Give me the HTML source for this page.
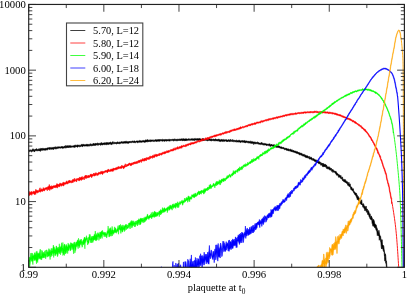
<!DOCTYPE html>
<html><head><meta charset="utf-8"><style>
html,body{margin:0;padding:0;background:#fff;}
body{width:407px;height:294px;overflow:hidden;position:relative;}
.t{font-family:"Liberation Serif",serif;font-size:10.7px;fill:#000;}
svg{will-change:transform;}
</style></head><body>
<svg width="407" height="294" viewBox="0 0 407 294" style="position:absolute;left:0;top:0">
<defs><clipPath id="c"><rect x="28.7" y="4.45" width="375.7" height="262.85"/></clipPath></defs>
<g clip-path="url(#c)">
<path d="M28.90,150.11 L29.30,150.03 L29.70,150.22 L30.10,150.16 L30.50,150.05 L30.90,149.79 L31.30,150.03 L31.70,150.17 L32.10,149.66 L32.50,149.85 L32.90,148.73 L33.30,149.41 L33.70,149.32 L34.10,149.65 L34.50,149.91 L34.90,149.24 L35.30,149.30 L35.70,149.30 L36.10,149.16 L36.50,148.61 L36.90,148.93 L37.30,149.64 L37.70,149.25 L38.10,149.26 L38.50,148.90 L38.90,149.13 L39.30,149.14 L39.70,148.67 L40.10,148.49 L40.50,149.19 L40.90,148.28 L41.30,148.55 L41.70,148.54 L42.10,148.46 L42.50,148.37 L42.90,148.45 L43.30,148.32 L43.70,148.65 L44.10,148.81 L44.50,148.28 L44.90,148.68 L45.30,148.56 L45.70,148.34 L46.10,147.93 L46.50,148.49 L46.90,148.14 L47.30,148.12 L47.70,147.99 L48.10,147.53 L48.50,147.99 L48.90,148.17 L49.30,147.51 L49.70,147.46 L50.10,147.92 L50.50,147.41 L50.90,147.63 L51.30,147.43 L51.70,147.82 L52.10,147.45 L52.50,147.75 L52.90,147.33 L53.30,147.84 L53.70,147.20 L54.10,147.20 L54.50,147.23 L54.90,146.96 L55.30,147.53 L55.70,146.63 L56.10,146.98 L56.50,147.32 L56.90,147.17 L57.30,146.64 L57.70,147.27 L58.10,147.02 L58.50,146.87 L58.90,146.87 L59.30,146.94 L59.70,146.71 L60.10,146.65 L60.50,146.92 L60.90,147.21 L61.30,146.47 L61.70,146.49 L62.10,146.54 L62.50,146.66 L62.90,146.46 L63.30,147.00 L63.70,146.79 L64.10,146.51 L64.50,146.00 L64.90,146.00 L65.30,146.68 L65.70,145.52 L66.10,145.52 L66.50,146.61 L66.90,145.78 L67.30,145.78 L67.70,146.11 L68.10,145.45 L68.50,145.88 L68.90,146.23 L69.30,145.56 L69.70,145.79 L70.10,145.41 L70.50,145.79 L70.90,145.81 L71.30,146.17 L71.70,145.83 L72.10,145.76 L72.50,145.96 L72.90,146.00 L73.30,145.65 L73.70,145.91 L74.10,145.35 L74.50,145.42 L74.90,145.72 L75.30,144.81 L75.70,145.58 L76.10,145.60 L76.50,145.26 L76.90,145.40 L77.30,144.88 L77.70,145.09 L78.10,144.83 L78.50,145.47 L78.90,145.05 L79.30,144.90 L79.70,145.39 L80.10,145.51 L80.50,145.19 L80.90,144.71 L81.30,144.45 L81.70,144.45 L82.10,144.37 L82.50,144.41 L82.90,144.70 L83.30,144.21 L83.70,144.22 L84.10,144.95 L84.50,144.68 L84.90,144.62 L85.30,144.67 L85.70,144.79 L86.10,144.60 L86.50,143.92 L86.90,144.55 L87.30,144.48 L87.70,144.12 L88.10,144.53 L88.50,144.43 L88.90,144.44 L89.30,144.21 L89.70,144.47 L90.10,144.35 L90.50,143.97 L90.90,143.66 L91.30,144.41 L91.70,144.17 L92.10,143.95 L92.50,144.28 L92.90,144.42 L93.30,143.23 L93.70,144.28 L94.10,143.48 L94.50,143.96 L94.90,143.64 L95.30,143.60 L95.70,143.36 L96.10,143.36 L96.50,143.81 L96.90,143.37 L97.30,143.19 L97.70,142.92 L98.10,143.48 L98.50,143.45 L98.90,143.33 L99.30,143.43 L99.70,143.43 L100.10,143.75 L100.50,142.83 L100.90,143.93 L101.30,142.60 L101.70,142.77 L102.10,143.26 L102.50,143.24 L102.90,142.98 L103.30,142.93 L103.70,143.12 L104.10,142.70 L104.50,143.00 L104.90,142.83 L105.30,143.23 L105.70,142.95 L106.10,142.21 L106.50,143.12 L106.90,142.70 L107.30,143.02 L107.70,142.52 L108.10,142.49 L108.50,143.32 L108.90,142.50 L109.30,142.72 L109.70,142.53 L110.10,142.12 L110.50,142.12 L110.90,142.38 L111.30,142.88 L111.70,142.70 L112.10,142.06 L112.50,142.35 L112.90,141.52 L113.30,142.14 L113.70,142.49 L114.10,142.72 L114.50,142.25 L114.90,142.07 L115.30,142.45 L115.70,142.39 L116.10,142.20 L116.50,142.46 L116.90,142.23 L117.30,141.95 L117.70,141.95 L118.10,142.28 L118.50,142.38 L118.90,142.25 L119.30,141.82 L119.70,142.35 L120.10,142.48 L120.50,141.89 L120.90,142.10 L121.30,141.56 L121.70,141.86 L122.10,142.10 L122.50,141.80 L122.90,141.75 L123.30,141.72 L123.70,141.83 L124.10,141.63 L124.50,141.19 L124.90,142.01 L125.30,141.54 L125.70,141.29 L126.10,141.29 L126.50,141.13 L126.90,141.89 L127.30,141.93 L127.70,141.39 L128.10,141.89 L128.50,141.63 L128.90,141.56 L129.30,141.08 L129.70,141.47 L130.10,141.26 L130.50,141.46 L130.90,141.61 L131.30,141.59 L131.70,141.24 L132.10,141.12 L132.50,141.03 L132.90,141.31 L133.30,141.19 L133.70,141.28 L134.10,141.05 L134.50,140.88 L134.90,141.10 L135.30,141.42 L135.70,141.39 L136.10,140.98 L136.50,140.93 L136.90,141.04 L137.30,140.93 L137.70,140.98 L138.10,141.23 L138.50,140.91 L138.90,140.97 L139.30,140.81 L139.70,140.38 L140.10,140.65 L140.50,140.75 L140.90,140.83 L141.30,141.12 L141.70,140.82 L142.10,140.56 L142.50,140.63 L142.90,140.79 L143.30,140.59 L143.70,140.44 L144.10,140.68 L144.50,140.94 L144.90,140.23 L145.30,140.15 L145.70,139.81 L146.10,140.32 L146.50,140.04 L146.90,139.94 L147.30,140.05 L147.70,139.44 L148.10,140.22 L148.50,140.32 L148.90,140.01 L149.30,140.49 L149.70,139.76 L150.10,140.18 L150.50,140.03 L150.90,139.73 L151.30,139.94 L151.70,140.08 L152.10,140.28 L152.50,140.02 L152.90,139.92 L153.30,139.77 L153.70,140.51 L154.10,140.38 L154.50,140.03 L154.90,140.07 L155.30,139.64 L155.70,139.63 L156.10,139.65 L156.50,139.85 L156.90,139.80 L157.30,139.74 L157.70,139.65 L158.10,139.58 L158.50,139.51 L158.90,139.81 L159.30,139.60 L159.70,139.60 L160.10,140.00 L160.50,139.47 L160.90,139.47 L161.30,139.59 L161.70,139.82 L162.10,139.66 L162.50,139.18 L162.90,139.41 L163.30,139.77 L163.70,139.52 L164.10,139.58 L164.50,139.57 L164.90,139.90 L165.30,139.40 L165.70,139.40 L166.10,139.87 L166.50,139.50 L166.90,139.56 L167.30,139.60 L167.70,139.67 L168.10,139.50 L168.50,139.41 L168.90,139.42 L169.30,139.51 L169.70,139.26 L170.10,139.39 L170.50,139.50 L170.90,139.43 L171.30,139.51 L171.70,139.42 L172.10,139.34 L172.50,139.38 L172.90,139.07 L173.30,139.30 L173.70,139.30 L174.10,139.27 L174.50,138.94 L174.90,139.19 L175.30,138.99 L175.70,139.45 L176.10,139.41 L176.50,139.54 L176.90,139.01 L177.30,139.28 L177.70,139.15 L178.10,139.21 L178.50,139.27 L178.90,139.30 L179.30,139.01 L179.70,139.21 L180.10,139.15 L180.50,139.11 L180.90,139.04 L181.30,139.03 L181.70,138.63 L182.10,139.23 L182.50,138.95 L182.90,138.66 L183.30,138.72 L183.70,138.72 L184.10,138.95 L184.50,139.09 L184.90,138.73 L185.30,138.65 L185.70,139.00 L186.10,139.00 L186.50,138.83 L186.90,138.92 L187.30,139.33 L187.70,139.05 L188.10,139.16 L188.50,138.79 L188.90,138.78 L189.30,138.77 L189.70,139.16 L190.10,139.44 L190.50,139.08 L190.90,138.82 L191.30,138.87 L191.70,138.78 L192.10,138.59 L192.50,138.92 L192.90,138.60 L193.30,138.89 L193.70,138.85 L194.10,138.50 L194.50,138.57 L194.90,139.19 L195.30,139.06 L195.70,138.42 L196.10,138.64 L196.50,138.85 L196.90,138.86 L197.30,138.45 L197.70,138.64 L198.10,138.94 L198.50,138.82 L198.90,138.35 L199.30,138.35 L199.70,138.79 L200.10,138.95 L200.50,138.85 L200.90,138.63 L201.30,138.94 L201.70,139.37 L202.10,139.10 L202.50,138.48 L202.90,138.48 L203.30,138.59 L203.70,138.80 L204.10,139.17 L204.50,139.34 L204.90,139.37 L205.30,139.34 L205.70,139.26 L206.10,139.26 L206.50,139.01 L206.90,139.30 L207.30,139.61 L207.70,139.21 L208.10,139.16 L208.50,139.36 L208.90,139.05 L209.30,139.10 L209.70,139.06 L210.10,139.25 L210.50,138.91 L210.90,139.29 L211.30,138.84 L211.70,139.17 L212.10,139.08 L212.50,139.38 L212.90,139.42 L213.30,139.11 L213.70,139.11 L214.10,139.62 L214.50,139.49 L214.90,139.01 L215.30,138.77 L215.70,139.06 L216.10,139.59 L216.50,139.52 L216.90,139.34 L217.30,139.58 L217.70,139.43 L218.10,139.08 L218.50,139.08 L218.90,139.58 L219.30,139.44 L219.70,139.44 L220.10,139.76 L220.50,140.04 L220.90,139.43 L221.30,139.40 L221.70,139.48 L222.10,139.48 L222.50,139.73 L222.90,139.70 L223.30,139.70 L223.70,139.40 L224.10,139.69 L224.50,139.69 L224.90,140.01 L225.30,139.78 L225.70,139.86 L226.10,139.69 L226.50,139.64 L226.90,139.97 L227.30,140.31 L227.70,139.96 L228.10,139.96 L228.50,139.85 L228.90,139.58 L229.30,140.06 L229.70,140.15 L230.10,139.45 L230.50,139.45 L230.90,140.42 L231.30,140.05 L231.70,140.17 L232.10,140.39 L232.50,139.65 L232.90,139.65 L233.30,140.16 L233.70,140.13 L234.10,139.99 L234.50,140.43 L234.90,140.31 L235.30,140.48 L235.70,140.41 L236.10,140.19 L236.50,140.19 L236.90,140.13 L237.30,140.45 L237.70,140.65 L238.10,140.71 L238.50,140.37 L238.90,140.37 L239.30,140.30 L239.70,140.42 L240.10,140.57 L240.50,140.99 L240.90,140.70 L241.30,140.70 L241.70,140.63 L242.10,140.52 L242.50,140.58 L242.90,140.81 L243.30,140.92 L243.70,140.99 L244.10,140.32 L244.50,141.14 L244.90,140.58 L245.30,140.84 L245.70,141.35 L246.10,141.02 L246.50,140.96 L246.90,140.99 L247.30,140.99 L247.70,141.38 L248.10,141.34 L248.50,141.34 L248.90,141.37 L249.30,141.28 L249.70,141.87 L250.10,141.47 L250.50,141.16 L250.90,141.16 L251.30,141.64 L251.70,141.44 L252.10,141.76 L252.50,141.67 L252.90,141.62 L253.30,142.00 L253.70,141.95 L254.10,141.85 L254.50,142.13 L254.90,141.99 L255.30,142.18 L255.70,142.18 L256.10,142.12 L256.50,142.49 L256.90,142.49 L257.30,142.19 L257.70,142.04 L258.10,142.30 L258.50,142.59 L258.90,142.69 L259.30,143.01 L259.70,143.03 L260.10,142.88 L260.50,143.18 L260.90,142.84 L261.30,142.94 L261.70,142.23 L262.10,142.69 L262.50,143.08 L262.90,143.52 L263.30,143.73 L263.70,143.37 L264.10,143.57 L264.50,143.40 L264.90,143.58 L265.30,143.47 L265.70,143.86 L266.10,143.87 L266.50,144.04 L266.90,143.89 L267.30,144.26 L267.70,143.88 L268.10,144.31 L268.50,144.11 L268.90,144.20 L269.30,144.12 L269.70,143.66 L270.10,144.37 L270.50,145.11 L270.90,144.78 L271.30,144.00 L271.70,144.83 L272.10,145.18 L272.50,145.00 L272.90,144.52 L273.30,144.87 L273.70,144.87 L274.10,145.61 L274.50,144.72 L274.90,144.72 L275.30,145.82 L275.70,145.89 L276.10,145.89 L276.50,145.76 L276.90,146.12 L277.30,145.92 L277.70,146.14 L278.10,145.98 L278.50,145.55 L278.90,146.37 L279.30,145.96 L279.70,146.12 L280.10,146.97 L280.50,147.03 L280.90,146.70 L281.30,147.05 L281.70,146.70 L282.10,147.38 L282.50,147.51 L282.90,147.15 L283.30,147.31 L283.70,147.59 L284.10,147.87 L284.50,147.93 L284.90,148.38 L285.30,148.44 L285.70,147.98 L286.10,148.01 L286.50,148.45 L286.90,148.45 L287.30,148.89 L287.70,148.88 L288.10,149.16 L288.50,149.01 L288.90,148.81 L289.30,149.66 L289.70,149.51 L290.10,149.17 L290.50,149.06 L290.90,149.79 L291.30,149.88 L291.70,149.92 L292.10,149.57 L292.50,150.13 L292.90,150.83 L293.30,150.22 L293.70,150.75 L294.10,150.68 L294.50,151.08 L294.90,151.09 L295.30,151.04 L295.70,151.33 L296.10,151.26 L296.50,151.65 L296.90,151.42 L297.30,151.71 L297.70,151.76 L298.10,152.57 L298.50,152.01 L298.90,152.64 L299.30,152.48 L299.70,153.11 L300.10,153.03 L300.50,153.21 L300.90,152.99 L301.30,152.99 L301.70,153.52 L302.10,154.16 L302.50,153.87 L302.90,154.42 L303.30,154.30 L303.70,154.59 L304.10,154.23 L304.50,154.61 L304.90,155.24 L305.30,155.17 L305.70,154.94 L306.10,155.91 L306.50,155.73 L306.90,155.68 L307.30,155.68 L307.70,155.96 L308.10,156.32 L308.50,156.80 L308.90,156.73 L309.30,156.24 L309.70,157.55 L310.10,157.46 L310.50,157.19 L310.90,157.24 L311.30,157.15 L311.70,157.99 L312.10,157.99 L312.50,158.74 L312.90,159.25 L313.30,158.48 L313.70,158.71 L314.10,159.25 L314.50,159.26 L314.90,159.49 L315.30,159.82 L315.70,160.07 L316.10,159.79 L316.50,160.27 L316.90,160.42 L317.30,160.64 L317.70,160.67 L318.10,161.67 L318.50,161.38 L318.90,161.19 L319.30,161.60 L319.70,161.89 L320.10,161.85 L320.50,162.31 L320.90,163.63 L321.30,162.78 L321.70,163.28 L322.10,163.68 L322.50,163.00 L322.90,164.63 L323.30,163.72 L323.70,163.38 L324.10,164.65 L324.50,164.07 L324.90,165.13 L325.30,164.46 L325.70,164.27 L326.10,166.24 L326.50,164.98 L326.90,166.42 L327.30,166.71 L327.70,166.86 L328.10,167.11 L328.50,166.71 L328.90,167.26 L329.30,166.86 L329.70,167.97 L330.10,167.70 L330.50,167.95 L330.90,168.72 L331.30,168.18 L331.70,169.53 L332.10,169.89 L332.50,169.58 L332.90,169.23 L333.30,170.07 L333.70,170.52 L334.10,170.97 L334.50,171.16 L334.90,171.10 L335.30,171.49 L335.70,171.34 L336.10,171.34 L336.50,172.86 L336.90,172.69 L337.30,173.55 L337.70,173.50 L338.10,173.90 L338.50,174.23 L338.90,175.53 L339.30,174.70 L339.70,175.37 L340.10,175.30 L340.50,176.59 L340.90,175.47 L341.30,177.14 L341.70,177.61 L342.10,177.31 L342.50,177.12 L342.90,178.88 L343.30,179.21 L343.70,179.86 L344.10,179.98 L344.50,179.57 L344.90,179.30 L345.30,179.59 L345.70,180.25 L346.10,181.47 L346.50,180.90 L346.90,181.69 L347.30,181.71 L347.70,182.06 L348.10,183.43 L348.50,183.92 L348.90,182.21 L349.30,183.94 L349.70,185.12 L350.10,183.81 L350.50,186.16 L350.90,186.85 L351.30,187.04 L351.70,187.04 L352.10,188.60 L352.50,188.84 L352.90,189.06 L353.30,188.65 L353.70,190.77 L354.10,191.56 L354.50,191.85 L354.90,192.36 L355.30,193.11 L355.70,193.08 L356.10,193.33 L356.50,193.33 L356.90,195.35 L357.30,195.21 L357.70,196.29 L358.10,196.88 L358.50,196.64 L358.90,198.10 L359.30,198.21 L359.70,199.37 L360.10,201.07 L360.50,200.94 L360.90,201.64 L361.30,200.85 L361.70,199.72 L362.10,203.39 L362.50,203.97 L362.90,204.36 L363.30,203.57 L363.70,204.15 L364.10,206.31 L364.50,205.83 L364.90,206.46 L365.30,206.70 L365.70,208.43 L366.10,206.07 L366.50,209.23 L366.90,209.07 L367.30,209.02 L367.70,210.40 L368.10,211.54 L368.50,210.62 L368.90,212.03 L369.30,213.21 L369.70,214.44 L370.10,213.80 L370.50,217.16 L370.90,218.03 L371.30,215.90 L371.70,217.09 L372.10,217.81 L372.50,219.38 L372.90,221.19 L373.30,219.23 L373.70,219.64 L374.10,220.56 L374.50,222.30 L374.90,223.98 L375.30,224.56 L375.70,224.62 L376.10,224.80 L376.50,226.34 L376.90,228.16 L377.30,228.59 L377.70,230.92 L378.10,231.62 L378.50,233.97 L378.90,230.23 L379.30,233.08 L379.70,235.01 L380.10,235.70 L380.50,236.10 L380.90,238.86 L381.30,239.63 L381.70,241.41 L382.10,239.63 L382.50,244.82 L382.90,244.96 L383.30,245.53 L383.70,245.73 L384.10,249.23 L384.50,251.57 L384.90,255.95 L385.30,253.74 L385.70,255.43 L386.10,261.03 L386.50,261.03 L386.90,267.59 L387.30,267.31 L387.70,268.58 L388.10,272.79 L388.50,273.27 L388.85,274.90 L388.85,275.70 L388.50,275.70 L388.10,275.70 L387.70,275.64 L387.30,275.64 L386.90,274.07 L386.50,268.53 L386.10,262.84 L385.70,263.18 L385.30,258.10 L384.90,261.17 L384.50,256.75 L384.10,252.37 L383.70,251.61 L383.30,250.93 L382.90,248.75 L382.50,248.75 L382.10,247.31 L381.70,248.96 L381.30,247.31 L380.90,242.55 L380.50,240.66 L380.10,238.03 L379.70,237.39 L379.30,240.27 L378.90,234.88 L378.50,235.94 L378.10,234.77 L377.70,234.63 L377.30,235.68 L376.90,231.67 L376.50,230.58 L376.10,230.36 L375.70,228.57 L375.30,228.34 L374.90,226.81 L374.50,227.53 L374.10,226.65 L373.70,225.28 L373.30,226.17 L372.90,226.17 L372.50,224.15 L372.10,223.28 L371.70,218.66 L371.30,219.95 L370.90,219.83 L370.50,218.83 L370.10,219.05 L369.70,217.53 L369.30,217.18 L368.90,215.83 L368.50,214.09 L368.10,214.85 L367.70,214.39 L367.30,211.65 L366.90,211.79 L366.50,212.34 L366.10,210.53 L365.70,210.58 L365.30,209.48 L364.90,210.80 L364.50,208.51 L364.10,208.71 L363.70,207.73 L363.30,206.48 L362.90,207.26 L362.50,205.16 L362.10,204.77 L361.70,204.54 L361.30,204.95 L360.90,203.84 L360.50,203.52 L360.10,203.75 L359.70,202.40 L359.30,201.22 L358.90,200.40 L358.50,200.40 L358.10,200.02 L357.70,199.60 L357.30,199.83 L356.90,198.03 L356.50,197.36 L356.10,196.18 L355.70,194.90 L355.30,195.13 L354.90,194.63 L354.50,193.73 L354.10,193.55 L353.70,192.77 L353.30,191.57 L352.90,191.02 L352.50,191.02 L352.10,190.28 L351.70,189.74 L351.30,190.09 L350.90,189.48 L350.50,187.65 L350.10,187.01 L349.70,186.70 L349.30,186.59 L348.90,185.78 L348.50,185.78 L348.10,185.55 L347.70,185.35 L347.30,183.46 L346.90,183.41 L346.50,183.22 L346.10,182.99 L345.70,182.62 L345.30,182.45 L344.90,182.31 L344.50,181.84 L344.10,182.00 L343.70,181.62 L343.30,181.08 L342.90,180.29 L342.50,180.64 L342.10,179.30 L341.70,178.92 L341.30,178.86 L340.90,178.29 L340.50,178.29 L340.10,177.50 L339.70,177.04 L339.30,177.04 L338.90,177.48 L338.50,177.07 L338.10,175.79 L337.70,175.48 L337.30,175.08 L336.90,175.35 L336.50,175.13 L336.10,173.93 L335.70,173.81 L335.30,173.37 L334.90,172.62 L334.50,172.37 L334.10,171.97 L333.70,172.13 L333.30,171.32 L332.90,172.50 L332.50,171.11 L332.10,171.27 L331.70,171.48 L331.30,170.35 L330.90,170.35 L330.50,170.01 L330.10,169.74 L329.70,170.07 L329.30,169.24 L328.90,169.26 L328.50,168.54 L328.10,169.19 L327.70,168.81 L327.30,168.81 L326.90,168.34 L326.50,168.40 L326.10,167.36 L325.70,167.13 L325.30,166.49 L324.90,166.66 L324.50,166.47 L324.10,166.68 L323.70,165.78 L323.30,166.88 L322.90,166.95 L322.50,166.25 L322.10,165.60 L321.70,165.15 L321.30,164.75 L320.90,165.33 L320.50,164.43 L320.10,163.37 L319.70,163.91 L319.30,163.74 L318.90,163.47 L318.50,163.62 L318.10,163.32 L317.70,162.47 L317.30,163.00 L316.90,162.17 L316.50,161.98 L316.10,162.41 L315.70,161.91 L315.30,161.26 L314.90,161.42 L314.50,161.20 L314.10,161.12 L313.70,160.32 L313.30,160.15 L312.90,160.59 L312.50,160.05 L312.10,159.54 L311.70,159.90 L311.30,159.52 L310.90,159.07 L310.50,158.88 L310.10,159.25 L309.70,159.12 L309.30,159.12 L308.90,158.17 L308.50,157.86 L308.10,157.86 L307.70,157.23 L307.30,158.18 L306.90,157.56 L306.50,158.01 L306.10,157.09 L305.70,156.93 L305.30,157.43 L304.90,157.07 L304.50,156.47 L304.10,155.82 L303.70,156.09 L303.30,156.09 L302.90,156.29 L302.50,155.88 L302.10,155.45 L301.70,155.13 L301.30,155.17 L300.90,154.81 L300.50,154.58 L300.10,155.20 L299.70,154.57 L299.30,154.91 L298.90,154.02 L298.50,153.72 L298.10,153.96 L297.70,153.58 L297.30,153.58 L296.90,153.50 L296.50,153.15 L296.10,153.15 L295.70,153.11 L295.30,152.72 L294.90,152.79 L294.50,152.31 L294.10,152.15 L293.70,152.05 L293.30,152.23 L292.90,152.09 L292.50,152.04 L292.10,151.17 L291.70,151.78 L291.30,151.49 L290.90,151.62 L290.50,151.12 L290.10,150.90 L289.70,150.87 L289.30,150.85 L288.90,150.46 L288.50,151.02 L288.10,150.98 L287.70,150.12 L287.30,150.45 L286.90,150.27 L286.50,150.14 L286.10,150.21 L285.70,149.62 L285.30,149.62 L284.90,149.94 L284.50,149.57 L284.10,149.22 L283.70,148.95 L283.30,148.81 L282.90,148.81 L282.50,148.55 L282.10,148.69 L281.70,148.73 L281.30,148.17 L280.90,148.13 L280.50,148.11 L280.10,148.46 L279.70,148.08 L279.30,147.17 L278.90,147.64 L278.50,147.31 L278.10,147.46 L277.70,147.46 L277.30,146.96 L276.90,147.59 L276.50,147.04 L276.10,147.37 L275.70,146.87 L275.30,147.19 L274.90,146.90 L274.50,147.00 L274.10,146.90 L273.70,146.97 L273.30,146.28 L272.90,145.92 L272.50,146.25 L272.10,146.25 L271.70,146.04 L271.30,145.72 L270.90,146.24 L270.50,146.34 L270.10,146.14 L269.70,146.14 L269.30,145.50 L268.90,145.62 L268.50,145.62 L268.10,145.62 L267.70,145.30 L267.30,145.28 L266.90,145.68 L266.50,145.51 L266.10,145.23 L265.70,144.90 L265.30,145.09 L264.90,145.09 L264.50,144.75 L264.10,145.26 L263.70,144.84 L263.30,144.98 L262.90,144.85 L262.50,144.66 L262.10,144.62 L261.70,144.44 L261.30,144.28 L260.90,144.29 L260.50,144.62 L260.10,144.45 L259.70,144.28 L259.30,144.24 L258.90,144.02 L258.50,144.18 L258.10,143.86 L257.70,143.80 L257.30,143.70 L256.90,143.65 L256.50,143.78 L256.10,143.35 L255.70,144.13 L255.30,143.71 L254.90,143.26 L254.50,143.83 L254.10,144.09 L253.70,144.53 L253.30,143.24 L252.90,143.21 L252.50,143.60 L252.10,143.23 L251.70,143.29 L251.30,143.39 L250.90,143.22 L250.50,143.25 L250.10,142.86 L249.70,142.89 L249.30,142.96 L248.90,142.76 L248.50,143.02 L248.10,142.75 L247.70,142.76 L247.30,142.57 L246.90,142.58 L246.50,142.35 L246.10,142.55 L245.70,142.65 L245.30,142.92 L244.90,142.14 L244.50,142.57 L244.10,142.39 L243.70,142.34 L243.30,141.95 L242.90,142.41 L242.50,141.76 L242.10,142.22 L241.70,141.87 L241.30,142.09 L240.90,142.53 L240.50,142.62 L240.10,142.21 L239.70,142.08 L239.30,142.01 L238.90,141.87 L238.50,141.95 L238.10,142.24 L237.70,141.97 L237.30,141.88 L236.90,141.69 L236.50,142.07 L236.10,141.75 L235.70,141.72 L235.30,142.01 L234.90,141.50 L234.50,141.69 L234.10,141.36 L233.70,141.53 L233.30,141.82 L232.90,141.63 L232.50,141.51 L232.10,141.34 L231.70,141.37 L231.30,141.30 L230.90,141.40 L230.50,141.25 L230.10,141.50 L229.70,141.50 L229.30,141.76 L228.90,140.86 L228.50,141.37 L228.10,141.20 L227.70,141.13 L227.30,141.93 L226.90,141.52 L226.50,141.52 L226.10,140.91 L225.70,141.22 L225.30,140.84 L224.90,140.94 L224.50,141.22 L224.10,141.51 L223.70,140.76 L223.30,141.58 L222.90,141.58 L222.50,141.29 L222.10,141.53 L221.70,141.34 L221.30,141.05 L220.90,141.47 L220.50,141.61 L220.10,140.91 L219.70,141.44 L219.30,141.14 L218.90,141.27 L218.50,141.10 L218.10,140.47 L217.70,140.96 L217.30,141.09 L216.90,141.03 L216.50,140.65 L216.10,141.01 L215.70,140.71 L215.30,140.87 L214.90,140.48 L214.50,140.98 L214.10,141.11 L213.70,140.45 L213.30,140.76 L212.90,140.38 L212.50,140.55 L212.10,140.65 L211.70,140.68 L211.30,141.12 L210.90,140.73 L210.50,140.43 L210.10,141.05 L209.70,140.31 L209.30,140.32 L208.90,140.51 L208.50,140.60 L208.10,140.16 L207.70,140.87 L207.30,140.88 L206.90,140.75 L206.50,140.55 L206.10,140.27 L205.70,140.36 L205.30,140.33 L204.90,140.28 L204.50,140.32 L204.10,140.20 L203.70,141.02 L203.30,140.39 L202.90,140.19 L202.50,140.79 L202.10,140.66 L201.70,140.49 L201.30,140.32 L200.90,140.14 L200.50,140.43 L200.10,140.43 L199.70,140.11 L199.30,139.96 L198.90,140.08 L198.50,140.68 L198.10,139.98 L197.70,139.88 L197.30,140.53 L196.90,140.27 L196.50,140.33 L196.10,139.65 L195.70,140.13 L195.30,140.03 L194.90,140.32 L194.50,140.26 L194.10,140.73 L193.70,140.08 L193.30,140.26 L192.90,140.26 L192.50,140.42 L192.10,139.87 L191.70,140.34 L191.30,140.04 L190.90,139.97 L190.50,140.24 L190.10,140.58 L189.70,140.29 L189.30,140.18 L188.90,140.28 L188.50,140.14 L188.10,140.31 L187.70,140.49 L187.30,140.29 L186.90,140.43 L186.50,140.40 L186.10,140.77 L185.70,140.48 L185.30,141.02 L184.90,139.90 L184.50,140.83 L184.10,140.65 L183.70,140.23 L183.30,140.79 L182.90,140.11 L182.50,140.71 L182.10,141.06 L181.70,140.03 L181.30,140.20 L180.90,140.20 L180.50,140.48 L180.10,140.89 L179.70,140.41 L179.30,140.36 L178.90,140.79 L178.50,140.51 L178.10,140.17 L177.70,140.50 L177.30,140.89 L176.90,141.03 L176.50,140.71 L176.10,140.58 L175.70,140.71 L175.30,140.49 L174.90,140.49 L174.50,140.59 L174.10,140.98 L173.70,140.98 L173.30,140.85 L172.90,140.53 L172.50,140.58 L172.10,140.44 L171.70,140.60 L171.30,140.58 L170.90,140.51 L170.50,140.85 L170.10,140.48 L169.70,141.21 L169.30,140.93 L168.90,141.00 L168.50,141.07 L168.10,140.47 L167.70,140.89 L167.30,141.09 L166.90,140.68 L166.50,141.21 L166.10,141.15 L165.70,140.67 L165.30,141.02 L164.90,140.99 L164.50,141.34 L164.10,141.34 L163.70,140.83 L163.30,141.07 L162.90,140.90 L162.50,141.26 L162.10,141.20 L161.70,141.08 L161.30,140.73 L160.90,140.78 L160.50,140.80 L160.10,141.19 L159.70,141.25 L159.30,141.34 L158.90,141.19 L158.50,141.32 L158.10,141.05 L157.70,141.18 L157.30,141.21 L156.90,141.22 L156.50,141.73 L156.10,140.96 L155.70,141.02 L155.30,141.36 L154.90,141.35 L154.50,141.18 L154.10,141.68 L153.70,141.60 L153.30,141.31 L152.90,141.14 L152.50,141.18 L152.10,141.27 L151.70,141.36 L151.30,141.45 L150.90,141.51 L150.50,141.65 L150.10,141.63 L149.70,141.53 L149.30,141.53 L148.90,141.63 L148.50,141.53 L148.10,142.02 L147.70,141.83 L147.30,141.83 L146.90,142.12 L146.50,141.73 L146.10,141.94 L145.70,142.23 L145.30,141.90 L144.90,142.22 L144.50,142.23 L144.10,142.37 L143.70,141.88 L143.30,142.05 L142.90,142.16 L142.50,141.79 L142.10,142.37 L141.70,142.22 L141.30,142.26 L140.90,142.15 L140.50,142.18 L140.10,142.30 L139.70,142.28 L139.30,142.21 L138.90,142.03 L138.50,142.28 L138.10,142.42 L137.70,143.11 L137.30,142.24 L136.90,142.35 L136.50,142.05 L136.10,142.19 L135.70,142.28 L135.30,142.95 L134.90,142.62 L134.50,142.44 L134.10,142.91 L133.70,142.53 L133.30,142.77 L132.90,142.36 L132.50,142.18 L132.10,142.57 L131.70,142.47 L131.30,142.81 L130.90,142.79 L130.50,142.59 L130.10,142.65 L129.70,142.70 L129.30,142.79 L128.90,143.15 L128.50,143.30 L128.10,143.30 L127.70,143.03 L127.30,143.40 L126.90,142.99 L126.50,143.11 L126.10,143.21 L125.70,143.34 L125.30,143.02 L124.90,142.95 L124.50,142.98 L124.10,143.48 L123.70,143.34 L123.30,143.09 L122.90,142.79 L122.50,143.37 L122.10,143.37 L121.70,142.92 L121.30,143.20 L120.90,143.37 L120.50,143.58 L120.10,143.59 L119.70,143.67 L119.30,143.74 L118.90,143.89 L118.50,143.39 L118.10,143.46 L117.70,143.32 L117.30,143.94 L116.90,143.39 L116.50,144.01 L116.10,144.17 L115.70,143.68 L115.30,143.50 L114.90,143.39 L114.50,143.65 L114.10,143.81 L113.70,143.62 L113.30,143.61 L112.90,144.30 L112.50,143.72 L112.10,143.61 L111.70,144.60 L111.30,144.70 L110.90,144.18 L110.50,144.27 L110.10,143.82 L109.70,143.96 L109.30,144.14 L108.90,144.41 L108.50,144.56 L108.10,144.59 L107.70,144.59 L107.30,144.19 L106.90,144.68 L106.50,144.68 L106.10,144.58 L105.70,144.30 L105.30,144.77 L104.90,145.02 L104.50,144.55 L104.10,144.60 L103.70,144.53 L103.30,143.93 L102.90,145.13 L102.50,144.82 L102.10,145.04 L101.70,144.64 L101.30,144.73 L100.90,145.37 L100.50,145.20 L100.10,144.77 L99.70,144.55 L99.30,144.66 L98.90,144.60 L98.50,145.14 L98.10,145.25 L97.70,145.35 L97.30,144.74 L96.90,144.66 L96.50,144.90 L96.10,145.34 L95.70,145.38 L95.30,145.26 L94.90,144.80 L94.50,145.71 L94.10,145.22 L93.70,145.27 L93.30,145.49 L92.90,145.95 L92.50,145.69 L92.10,145.17 L91.70,145.45 L91.30,146.10 L90.90,146.10 L90.50,145.48 L90.10,145.44 L89.70,145.77 L89.30,146.16 L88.90,145.86 L88.50,146.12 L88.10,145.94 L87.70,146.14 L87.30,146.11 L86.90,146.29 L86.50,145.93 L86.10,145.93 L85.70,145.93 L85.30,146.12 L84.90,146.07 L84.50,146.10 L84.10,146.30 L83.70,145.99 L83.30,145.93 L82.90,145.97 L82.50,146.72 L82.10,146.63 L81.70,145.77 L81.30,146.36 L80.90,146.32 L80.50,146.41 L80.10,146.95 L79.70,147.08 L79.30,146.26 L78.90,146.28 L78.50,146.45 L78.10,146.76 L77.70,147.37 L77.30,147.01 L76.90,146.74 L76.50,146.64 L76.10,146.94 L75.70,146.45 L75.30,147.28 L74.90,146.91 L74.50,147.40 L74.10,147.47 L73.70,147.26 L73.30,147.01 L72.90,147.22 L72.50,147.07 L72.10,146.76 L71.70,147.02 L71.30,147.16 L70.90,147.66 L70.50,146.97 L70.10,147.41 L69.70,147.39 L69.30,147.03 L68.90,147.67 L68.50,147.39 L68.10,147.39 L67.70,147.83 L67.30,147.08 L66.90,147.66 L66.50,147.76 L66.10,147.82 L65.70,147.97 L65.30,147.78 L64.90,147.58 L64.50,148.07 L64.10,147.90 L63.70,147.94 L63.30,148.34 L62.90,148.59 L62.50,148.22 L62.10,147.90 L61.70,147.89 L61.30,148.01 L60.90,148.13 L60.50,148.16 L60.10,148.04 L59.70,148.04 L59.30,148.08 L58.90,148.00 L58.50,148.15 L58.10,148.58 L57.70,148.41 L57.30,148.27 L56.90,148.59 L56.50,149.13 L56.10,148.46 L55.70,148.68 L55.30,149.12 L54.90,148.94 L54.50,148.76 L54.10,148.29 L53.70,149.32 L53.30,149.73 L52.90,149.20 L52.50,149.02 L52.10,149.19 L51.70,149.36 L51.30,149.15 L50.90,149.09 L50.50,148.85 L50.10,149.66 L49.70,149.55 L49.30,149.20 L48.90,149.24 L48.50,148.97 L48.10,148.91 L47.70,149.77 L47.30,150.12 L46.90,149.98 L46.50,149.98 L46.10,149.62 L45.70,150.21 L45.30,150.21 L44.90,149.89 L44.50,150.23 L44.10,150.23 L43.70,150.14 L43.30,149.90 L42.90,149.64 L42.50,150.35 L42.10,150.45 L41.70,150.45 L41.30,149.79 L40.90,150.42 L40.50,151.38 L40.10,149.99 L39.70,150.97 L39.30,150.97 L38.90,150.39 L38.50,150.63 L38.10,150.63 L37.70,150.62 L37.30,151.15 L36.90,150.44 L36.50,150.62 L36.10,150.91 L35.70,150.62 L35.30,150.75 L34.90,150.71 L34.50,152.04 L34.10,150.80 L33.70,150.68 L33.30,151.35 L32.90,150.96 L32.50,150.95 L32.10,151.63 L31.70,151.86 L31.30,151.71 L30.90,151.35 L30.50,151.24 L30.10,151.19 L29.70,151.58 L29.30,151.55 L28.90,151.53Z" fill="#000000" stroke="#000000" stroke-width="0.65" stroke-linejoin="round"/>
<path d="M28.90,193.69 L29.30,191.38 L29.70,192.41 L30.10,192.31 L30.50,192.17 L30.90,191.64 L31.30,191.64 L31.70,191.44 L32.10,192.17 L32.50,192.18 L32.90,191.64 L33.30,191.91 L33.70,190.92 L34.10,191.56 L34.50,191.47 L34.90,192.23 L35.30,191.12 L35.70,189.51 L36.10,189.51 L36.50,190.87 L36.90,190.30 L37.30,190.36 L37.70,190.64 L38.10,191.30 L38.50,190.73 L38.90,189.86 L39.30,190.30 L39.70,188.32 L40.10,187.72 L40.50,189.73 L40.90,189.73 L41.30,189.16 L41.70,188.79 L42.10,188.79 L42.50,189.37 L42.90,189.49 L43.30,187.57 L43.70,188.34 L44.10,189.35 L44.50,188.39 L44.90,188.34 L45.30,187.65 L45.70,188.08 L46.10,187.55 L46.50,187.52 L46.90,187.72 L47.30,187.22 L47.70,186.87 L48.10,186.87 L48.50,186.19 L48.90,186.26 L49.30,184.48 L49.70,186.00 L50.10,186.58 L50.50,186.46 L50.90,185.92 L51.30,186.70 L51.70,185.66 L52.10,186.02 L52.50,186.32 L52.90,185.98 L53.30,185.76 L53.70,185.81 L54.10,185.47 L54.50,185.73 L54.90,185.43 L55.30,185.43 L55.70,185.31 L56.10,184.87 L56.50,184.92 L56.90,183.59 L57.30,184.11 L57.70,183.96 L58.10,184.80 L58.50,184.25 L58.90,184.75 L59.30,183.70 L59.70,184.01 L60.10,182.85 L60.50,183.54 L60.90,183.72 L61.30,183.72 L61.70,183.65 L62.10,183.35 L62.50,183.90 L62.90,182.32 L63.30,182.11 L63.70,182.68 L64.10,182.72 L64.50,182.49 L64.90,182.81 L65.30,182.66 L65.70,182.28 L66.10,181.64 L66.50,180.88 L66.90,181.22 L67.30,182.32 L67.70,181.98 L68.10,180.66 L68.50,180.66 L68.90,181.18 L69.30,180.90 L69.70,179.97 L70.10,180.88 L70.50,180.90 L70.90,181.12 L71.30,181.41 L71.70,180.62 L72.10,180.56 L72.50,179.61 L72.90,179.53 L73.30,179.53 L73.70,179.74 L74.10,178.48 L74.50,178.48 L74.90,179.74 L75.30,180.03 L75.70,179.51 L76.10,178.52 L76.50,179.82 L76.90,178.76 L77.30,178.74 L77.70,178.72 L78.10,178.01 L78.50,178.15 L78.90,179.10 L79.30,178.26 L79.70,176.94 L80.10,177.35 L80.50,177.77 L80.90,178.03 L81.30,176.96 L81.70,178.06 L82.10,176.36 L82.50,178.32 L82.90,177.52 L83.30,177.19 L83.70,177.74 L84.10,177.34 L84.50,176.17 L84.90,175.66 L85.30,175.64 L85.70,175.10 L86.10,175.98 L86.50,176.14 L86.90,175.07 L87.30,176.54 L87.70,176.10 L88.10,175.47 L88.50,175.51 L88.90,175.43 L89.30,175.90 L89.70,175.32 L90.10,174.90 L90.50,173.93 L90.90,175.01 L91.30,174.17 L91.70,174.28 L92.10,174.31 L92.50,174.55 L92.90,174.28 L93.30,174.60 L93.70,173.04 L94.10,173.81 L94.50,174.26 L94.90,173.01 L95.30,172.65 L95.70,173.67 L96.10,172.80 L96.50,172.93 L96.90,173.71 L97.30,173.74 L97.70,173.09 L98.10,172.95 L98.50,172.84 L98.90,171.95 L99.30,172.30 L99.70,172.48 L100.10,172.33 L100.50,171.98 L100.90,171.37 L101.30,171.75 L101.70,171.23 L102.10,171.23 L102.50,171.24 L102.90,171.86 L103.30,171.61 L103.70,171.69 L104.10,170.94 L104.50,171.30 L104.90,171.27 L105.30,170.30 L105.70,171.03 L106.10,171.03 L106.50,170.37 L106.90,170.32 L107.30,170.05 L107.70,169.85 L108.10,170.10 L108.50,168.94 L108.90,169.51 L109.30,170.18 L109.70,170.14 L110.10,169.81 L110.50,169.28 L110.90,169.15 L111.30,169.26 L111.70,169.06 L112.10,169.10 L112.50,168.95 L112.90,168.95 L113.30,167.90 L113.70,168.58 L114.10,168.58 L114.50,167.99 L114.90,168.42 L115.30,167.83 L115.70,168.07 L116.10,167.82 L116.50,167.39 L116.90,167.46 L117.30,167.50 L117.70,166.80 L118.10,167.28 L118.50,166.58 L118.90,166.58 L119.30,166.84 L119.70,167.26 L120.10,166.44 L120.50,166.67 L120.90,166.77 L121.30,166.52 L121.70,165.28 L122.10,166.36 L122.50,165.78 L122.90,165.69 L123.30,166.00 L123.70,166.21 L124.10,165.67 L124.50,165.34 L124.90,165.34 L125.30,163.74 L125.70,165.65 L126.10,165.65 L126.50,164.43 L126.90,164.69 L127.30,164.57 L127.70,164.16 L128.10,163.78 L128.50,163.93 L128.90,163.31 L129.30,163.06 L129.70,163.06 L130.10,163.74 L130.50,163.60 L130.90,163.15 L131.30,163.02 L131.70,163.28 L132.10,163.33 L132.50,162.89 L132.90,162.92 L133.30,162.00 L133.70,162.48 L134.10,162.22 L134.50,162.00 L134.90,161.95 L135.30,162.19 L135.70,161.69 L136.10,162.04 L136.50,161.48 L136.90,161.53 L137.30,161.44 L137.70,161.10 L138.10,161.27 L138.50,160.75 L138.90,160.00 L139.30,160.62 L139.70,160.32 L140.10,160.17 L140.50,159.63 L140.90,160.13 L141.30,159.90 L141.70,159.76 L142.10,159.27 L142.50,158.57 L142.90,159.87 L143.30,159.29 L143.70,158.74 L144.10,158.74 L144.50,158.01 L144.90,158.74 L145.30,158.74 L145.70,157.87 L146.10,158.38 L146.50,157.59 L146.90,157.79 L147.30,157.83 L147.70,157.65 L148.10,157.42 L148.50,157.50 L148.90,157.17 L149.30,157.45 L149.70,156.40 L150.10,155.87 L150.50,156.83 L150.90,156.41 L151.30,156.35 L151.70,156.60 L152.10,155.88 L152.50,155.57 L152.90,155.43 L153.30,155.67 L153.70,155.67 L154.10,154.49 L154.50,154.98 L154.90,155.19 L155.30,154.95 L155.70,154.24 L156.10,154.55 L156.50,154.48 L156.90,153.94 L157.30,154.61 L157.70,154.68 L158.10,154.66 L158.50,153.84 L158.90,153.75 L159.30,153.52 L159.70,153.26 L160.10,153.70 L160.50,153.28 L160.90,153.24 L161.30,153.25 L161.70,153.12 L162.10,152.89 L162.50,152.20 L162.90,152.43 L163.30,152.20 L163.70,152.26 L164.10,152.10 L164.50,151.86 L164.90,151.50 L165.30,151.80 L165.70,151.58 L166.10,151.45 L166.50,151.14 L166.90,150.66 L167.30,151.08 L167.70,150.92 L168.10,150.43 L168.50,150.49 L168.90,150.78 L169.30,150.40 L169.70,150.40 L170.10,150.21 L170.50,150.20 L170.90,149.34 L171.30,149.77 L171.70,149.60 L172.10,149.73 L172.50,149.09 L172.90,148.69 L173.30,148.31 L173.70,148.92 L174.10,148.92 L174.50,149.04 L174.90,147.71 L175.30,147.71 L175.70,148.44 L176.10,148.05 L176.50,147.74 L176.90,147.64 L177.30,146.81 L177.70,146.81 L178.10,147.48 L178.50,147.18 L178.90,146.89 L179.30,146.42 L179.70,146.64 L180.10,146.74 L180.50,146.61 L180.90,146.31 L181.30,145.54 L181.70,145.87 L182.10,146.06 L182.50,146.06 L182.90,145.81 L183.30,144.87 L183.70,145.53 L184.10,145.25 L184.50,145.38 L184.90,145.39 L185.30,145.04 L185.70,144.59 L186.10,144.94 L186.50,144.55 L186.90,144.27 L187.30,143.81 L187.70,144.34 L188.10,143.86 L188.50,143.86 L188.90,143.72 L189.30,143.52 L189.70,143.41 L190.10,143.53 L190.50,143.07 L190.90,142.53 L191.30,143.06 L191.70,142.57 L192.10,142.72 L192.50,142.46 L192.90,142.36 L193.30,142.38 L193.70,142.50 L194.10,142.32 L194.50,141.84 L194.90,141.92 L195.30,141.66 L195.70,141.71 L196.10,141.67 L196.50,141.33 L196.90,141.26 L197.30,141.26 L197.70,140.55 L198.10,140.45 L198.50,140.70 L198.90,140.92 L199.30,140.91 L199.70,140.14 L200.10,140.18 L200.50,140.18 L200.90,139.89 L201.30,139.95 L201.70,138.87 L202.10,138.46 L202.50,139.44 L202.90,139.54 L203.30,139.32 L203.70,139.04 L204.10,139.04 L204.50,138.91 L204.90,138.56 L205.30,137.79 L205.70,138.14 L206.10,137.70 L206.50,138.29 L206.90,138.14 L207.30,137.94 L207.70,137.17 L208.10,137.84 L208.50,137.43 L208.90,137.43 L209.30,136.76 L209.70,137.13 L210.10,137.13 L210.50,136.58 L210.90,136.16 L211.30,136.18 L211.70,136.31 L212.10,136.10 L212.50,136.10 L212.90,136.09 L213.30,135.89 L213.70,135.59 L214.10,135.11 L214.50,135.13 L214.90,134.99 L215.30,135.00 L215.70,134.94 L216.10,134.78 L216.50,134.65 L216.90,134.76 L217.30,134.32 L217.70,134.69 L218.10,134.71 L218.50,133.99 L218.90,134.00 L219.30,133.92 L219.70,133.77 L220.10,133.49 L220.50,133.60 L220.90,133.59 L221.30,133.80 L221.70,133.30 L222.10,133.21 L222.50,132.65 L222.90,132.67 L223.30,132.86 L223.70,132.98 L224.10,132.36 L224.50,132.27 L224.90,131.97 L225.30,132.22 L225.70,131.41 L226.10,131.59 L226.50,131.63 L226.90,131.54 L227.30,131.46 L227.70,131.56 L228.10,131.52 L228.50,131.36 L228.90,131.12 L229.30,131.25 L229.70,130.71 L230.10,129.99 L230.50,130.25 L230.90,130.38 L231.30,130.05 L231.70,130.00 L232.10,130.22 L232.50,129.61 L232.90,129.45 L233.30,129.25 L233.70,129.39 L234.10,128.84 L234.50,128.98 L234.90,129.09 L235.30,129.15 L235.70,128.94 L236.10,129.10 L236.50,128.93 L236.90,128.08 L237.30,128.34 L237.70,128.34 L238.10,127.96 L238.50,128.29 L238.90,127.61 L239.30,127.85 L239.70,127.81 L240.10,126.93 L240.50,126.70 L240.90,127.04 L241.30,127.27 L241.70,127.03 L242.10,126.64 L242.50,126.44 L242.90,126.42 L243.30,126.62 L243.70,126.65 L244.10,126.25 L244.50,126.34 L244.90,126.27 L245.30,126.00 L245.70,125.81 L246.10,125.30 L246.50,125.53 L246.90,125.46 L247.30,125.20 L247.70,125.11 L248.10,124.65 L248.50,124.64 L248.90,124.62 L249.30,124.72 L249.70,124.08 L250.10,124.36 L250.50,124.37 L250.90,123.74 L251.30,123.70 L251.70,123.77 L252.10,123.54 L252.50,123.61 L252.90,123.31 L253.30,123.51 L253.70,123.28 L254.10,123.11 L254.50,122.95 L254.90,122.54 L255.30,123.02 L255.70,122.92 L256.10,122.39 L256.50,122.34 L256.90,121.85 L257.30,122.06 L257.70,122.08 L258.10,122.08 L258.50,122.02 L258.90,121.88 L259.30,121.88 L259.70,121.74 L260.10,121.67 L260.50,121.09 L260.90,120.81 L261.30,121.02 L261.70,120.52 L262.10,120.83 L262.50,120.84 L262.90,120.64 L263.30,120.45 L263.70,120.52 L264.10,119.94 L264.50,120.22 L264.90,120.24 L265.30,119.83 L265.70,119.64 L266.10,119.51 L266.50,119.97 L266.90,119.18 L267.30,119.40 L267.70,119.01 L268.10,119.13 L268.50,118.85 L268.90,118.62 L269.30,118.59 L269.70,118.76 L270.10,118.47 L270.50,118.42 L270.90,118.46 L271.30,118.34 L271.70,118.46 L272.10,118.26 L272.50,117.93 L272.90,117.81 L273.30,117.78 L273.70,117.68 L274.10,117.57 L274.50,117.57 L274.90,117.57 L275.30,117.55 L275.70,117.20 L276.10,116.82 L276.50,116.84 L276.90,117.14 L277.30,117.05 L277.70,116.80 L278.10,116.37 L278.50,116.60 L278.90,116.55 L279.30,116.59 L279.70,116.22 L280.10,116.16 L280.50,115.96 L280.90,116.07 L281.30,116.02 L281.70,115.89 L282.10,115.75 L282.50,115.62 L282.90,115.68 L283.30,115.09 L283.70,115.16 L284.10,115.12 L284.50,115.16 L284.90,114.92 L285.30,114.81 L285.70,114.62 L286.10,114.62 L286.50,114.60 L286.90,114.60 L287.30,114.46 L287.70,114.22 L288.10,114.07 L288.50,114.25 L288.90,114.02 L289.30,113.97 L289.70,113.80 L290.10,114.02 L290.50,113.45 L290.90,113.53 L291.30,113.45 L291.70,113.40 L292.10,113.34 L292.50,113.38 L292.90,113.38 L293.30,113.55 L293.70,113.28 L294.10,113.28 L294.50,113.32 L294.90,113.24 L295.30,112.80 L295.70,112.96 L296.10,112.67 L296.50,113.24 L296.90,112.88 L297.30,112.82 L297.70,112.64 L298.10,112.68 L298.50,112.49 L298.90,112.34 L299.30,112.50 L299.70,112.62 L300.10,112.65 L300.50,112.38 L300.90,112.20 L301.30,112.08 L301.70,112.42 L302.10,112.16 L302.50,112.37 L302.90,111.96 L303.30,112.12 L303.70,112.00 L304.10,111.82 L304.50,111.84 L304.90,111.94 L305.30,111.89 L305.70,111.74 L306.10,111.86 L306.50,112.00 L306.90,111.69 L307.30,111.71 L307.70,111.57 L308.10,111.93 L308.50,111.73 L308.90,111.61 L309.30,111.71 L309.70,111.71 L310.10,111.26 L310.50,111.47 L310.90,111.56 L311.30,111.68 L311.70,111.38 L312.10,111.38 L312.50,111.68 L312.90,111.52 L313.30,111.52 L313.70,111.56 L314.10,111.21 L314.50,111.21 L314.90,110.93 L315.30,111.28 L315.70,111.28 L316.10,111.41 L316.50,111.17 L316.90,111.17 L317.30,111.30 L317.70,111.50 L318.10,111.46 L318.50,111.76 L318.90,111.69 L319.30,111.73 L319.70,111.40 L320.10,111.55 L320.50,111.56 L320.90,111.23 L321.30,111.45 L321.70,111.55 L322.10,111.50 L322.50,111.50 L322.90,111.83 L323.30,111.81 L323.70,111.49 L324.10,111.62 L324.50,111.52 L324.90,111.78 L325.30,111.78 L325.70,111.75 L326.10,111.68 L326.50,112.01 L326.90,112.15 L327.30,111.97 L327.70,111.78 L328.10,112.03 L328.50,112.15 L328.90,112.23 L329.30,112.24 L329.70,112.07 L330.10,112.34 L330.50,112.37 L330.90,112.29 L331.30,112.58 L331.70,112.49 L332.10,112.65 L332.50,112.57 L332.90,112.55 L333.30,112.88 L333.70,112.86 L334.10,112.99 L334.50,113.14 L334.90,113.01 L335.30,113.35 L335.70,113.08 L336.10,113.31 L336.50,113.53 L336.90,113.87 L337.30,113.82 L337.70,114.03 L338.10,113.97 L338.50,114.49 L338.90,114.56 L339.30,114.52 L339.70,114.55 L340.10,114.99 L340.50,114.61 L340.90,115.04 L341.30,115.13 L341.70,115.49 L342.10,115.49 L342.50,115.76 L342.90,115.92 L343.30,115.92 L343.70,116.28 L344.10,116.36 L344.50,116.53 L344.90,116.91 L345.30,116.92 L345.70,117.04 L346.10,117.10 L346.50,117.36 L346.90,117.54 L347.30,117.99 L347.70,118.06 L348.10,117.97 L348.50,117.93 L348.90,118.51 L349.30,118.56 L349.70,118.54 L350.10,119.07 L350.50,118.93 L350.90,118.82 L351.30,119.65 L351.70,119.71 L352.10,120.00 L352.50,120.20 L352.90,120.40 L353.30,120.59 L353.70,120.54 L354.10,121.06 L354.50,121.36 L354.90,121.56 L355.30,121.59 L355.70,121.78 L356.10,122.60 L356.50,122.57 L356.90,122.88 L357.30,123.45 L357.70,123.53 L358.10,123.64 L358.50,124.17 L358.90,124.17 L359.30,124.56 L359.70,124.69 L360.10,125.40 L360.50,125.55 L360.90,125.70 L361.30,125.69 L361.70,126.77 L362.10,126.98 L362.50,127.01 L362.90,127.81 L363.30,128.12 L363.70,128.37 L364.10,129.15 L364.50,129.00 L364.90,129.00 L365.30,129.51 L365.70,130.12 L366.10,130.84 L366.50,131.55 L366.90,131.53 L367.30,131.97 L367.70,132.74 L368.10,133.34 L368.50,133.85 L368.90,134.23 L369.30,135.34 L369.70,135.77 L370.10,135.92 L370.50,136.68 L370.90,137.04 L371.30,138.09 L371.70,138.85 L372.10,139.59 L372.50,140.29 L372.90,140.52 L373.30,141.87 L373.70,142.33 L374.10,142.94 L374.50,143.86 L374.90,144.57 L375.30,145.09 L375.70,146.30 L376.10,147.22 L376.50,147.91 L376.90,147.91 L377.30,149.26 L377.70,149.67 L378.10,151.32 L378.50,151.96 L378.90,153.22 L379.30,154.11 L379.70,154.98 L380.10,155.57 L380.50,156.08 L380.90,158.57 L381.30,159.25 L381.70,159.85 L382.10,161.11 L382.50,163.08 L382.90,163.61 L383.30,165.51 L383.70,166.38 L384.10,167.48 L384.50,168.33 L384.90,169.43 L385.30,170.99 L385.70,172.32 L386.10,172.89 L386.50,174.76 L386.90,177.05 L387.30,179.41 L387.70,180.27 L388.10,182.38 L388.50,183.15 L388.90,184.75 L389.30,186.52 L389.70,189.29 L390.10,191.53 L390.50,192.92 L390.90,195.54 L391.30,197.41 L391.70,198.25 L391.70,203.75 L391.30,199.05 L390.90,198.79 L390.50,196.34 L390.10,194.06 L389.70,192.33 L389.30,190.12 L388.90,187.32 L388.50,186.32 L388.10,184.59 L387.70,183.41 L387.30,181.07 L386.90,180.21 L386.50,178.11 L386.10,175.66 L385.70,173.87 L385.30,173.78 L384.90,171.79 L384.50,171.07 L384.10,169.13 L383.70,168.56 L383.30,167.18 L382.90,166.31 L382.50,164.41 L382.10,163.89 L381.70,161.91 L381.30,161.05 L380.90,160.19 L380.50,159.37 L380.10,157.48 L379.70,157.22 L379.30,155.78 L378.90,154.91 L378.50,154.02 L378.10,153.37 L377.70,153.30 L377.30,151.20 L376.90,150.43 L376.50,149.72 L376.10,148.78 L375.70,148.02 L375.30,147.10 L374.90,146.38 L374.50,145.45 L374.10,145.18 L373.70,143.74 L373.30,143.20 L372.90,142.67 L372.50,141.58 L372.10,141.28 L371.70,140.83 L371.30,140.22 L370.90,138.89 L370.50,137.84 L370.10,137.68 L369.70,137.35 L369.30,136.76 L368.90,136.16 L368.50,135.03 L368.10,134.76 L367.70,134.14 L367.30,133.54 L366.90,132.89 L366.50,132.62 L366.10,132.38 L365.70,131.70 L365.30,131.85 L364.90,130.80 L364.50,130.43 L364.10,130.53 L363.70,129.95 L363.30,129.24 L362.90,128.92 L362.50,128.61 L362.10,128.77 L361.70,128.01 L361.30,127.76 L360.90,126.86 L360.50,126.93 L360.10,126.47 L359.70,126.22 L359.30,125.75 L358.90,125.36 L358.50,125.72 L358.10,125.08 L357.70,124.57 L357.30,124.48 L356.90,124.25 L356.50,123.83 L356.10,123.83 L355.70,123.40 L355.30,123.22 L354.90,123.17 L354.50,122.92 L354.10,122.23 L353.70,122.11 L353.30,121.79 L352.90,121.98 L352.50,121.98 L352.10,121.22 L351.70,121.04 L351.30,120.65 L350.90,120.54 L350.50,120.08 L350.10,120.47 L349.70,119.87 L349.30,119.90 L348.90,119.60 L348.50,119.38 L348.10,119.31 L347.70,119.17 L347.30,119.22 L346.90,119.01 L346.50,118.71 L346.10,118.60 L345.70,118.06 L345.30,118.06 L344.90,118.04 L344.50,117.98 L344.10,117.47 L343.70,117.28 L343.30,117.68 L342.90,117.09 L342.50,117.12 L342.10,116.85 L341.70,116.81 L341.30,116.59 L340.90,116.04 L340.50,116.04 L340.10,116.15 L339.70,115.79 L339.30,115.88 L338.90,115.93 L338.50,115.36 L338.10,115.33 L337.70,115.21 L337.30,115.20 L336.90,115.20 L336.50,114.94 L336.10,114.76 L335.70,114.63 L335.30,114.45 L334.90,114.42 L334.50,114.41 L334.10,114.04 L333.70,113.81 L333.30,114.08 L332.90,114.17 L332.50,113.90 L332.10,113.78 L331.70,113.58 L331.30,113.76 L330.90,113.52 L330.50,113.51 L330.10,113.40 L329.70,113.33 L329.30,113.64 L328.90,113.72 L328.50,113.42 L328.10,113.49 L327.70,112.94 L327.30,113.18 L326.90,113.31 L326.50,113.00 L326.10,113.23 L325.70,113.10 L325.30,113.12 L324.90,113.30 L324.50,112.74 L324.10,112.87 L323.70,112.65 L323.30,112.91 L322.90,113.24 L322.50,112.98 L322.10,112.92 L321.70,112.61 L321.30,112.89 L320.90,112.36 L320.50,112.69 L320.10,112.65 L319.70,112.82 L319.30,112.73 L318.90,112.68 L318.50,112.69 L318.10,113.10 L317.70,113.10 L317.30,112.52 L316.90,112.65 L316.50,112.43 L316.10,112.57 L315.70,112.29 L315.30,112.50 L314.90,112.60 L314.50,112.55 L314.10,112.88 L313.70,112.90 L313.30,112.61 L312.90,112.76 L312.50,112.78 L312.10,112.78 L311.70,112.65 L311.30,112.60 L310.90,112.72 L310.50,112.72 L310.10,112.94 L309.70,112.76 L309.30,112.88 L308.90,112.86 L308.50,112.81 L308.10,112.93 L307.70,112.84 L307.30,112.78 L306.90,112.80 L306.50,113.02 L306.10,112.95 L305.70,113.03 L305.30,113.24 L304.90,113.35 L304.50,112.82 L304.10,112.90 L303.70,113.28 L303.30,113.64 L302.90,113.18 L302.50,113.51 L302.10,113.22 L301.70,113.61 L301.30,113.42 L300.90,113.45 L300.50,113.51 L300.10,113.89 L299.70,113.89 L299.30,113.62 L298.90,113.60 L298.50,113.48 L298.10,113.90 L297.70,113.85 L297.30,113.86 L296.90,114.19 L296.50,114.31 L296.10,114.04 L295.70,114.01 L295.30,114.58 L294.90,114.58 L294.50,114.31 L294.10,114.27 L293.70,114.55 L293.30,114.71 L292.90,114.46 L292.50,115.01 L292.10,114.73 L291.70,115.05 L291.30,114.57 L290.90,114.85 L290.50,114.91 L290.10,115.22 L289.70,115.33 L289.30,115.13 L288.90,115.35 L288.50,115.21 L288.10,115.52 L287.70,115.31 L287.30,115.87 L286.90,115.78 L286.50,116.08 L286.10,115.95 L285.70,115.73 L285.30,115.99 L284.90,116.18 L284.50,116.45 L284.10,116.71 L283.70,116.59 L283.30,116.53 L282.90,116.86 L282.50,117.05 L282.10,116.75 L281.70,116.97 L281.30,117.01 L280.90,117.22 L280.50,117.33 L280.10,117.37 L279.70,117.46 L279.30,117.70 L278.90,117.80 L278.50,117.80 L278.10,117.80 L277.70,118.35 L277.30,118.23 L276.90,118.52 L276.50,118.12 L276.10,118.00 L275.70,118.61 L275.30,118.87 L274.90,118.75 L274.50,118.71 L274.10,118.84 L273.70,119.24 L273.30,119.24 L272.90,119.11 L272.50,119.18 L272.10,119.26 L271.70,119.72 L271.30,119.29 L270.90,119.50 L270.50,119.84 L270.10,120.03 L269.70,120.06 L269.30,119.84 L268.90,119.71 L268.50,120.67 L268.10,120.34 L267.70,120.31 L267.30,120.82 L266.90,120.77 L266.50,121.04 L266.10,120.81 L265.70,120.78 L265.30,121.05 L264.90,121.11 L264.50,121.37 L264.10,121.38 L263.70,121.66 L263.30,121.44 L262.90,122.27 L262.50,122.27 L262.10,121.79 L261.70,121.82 L261.30,122.36 L260.90,122.56 L260.50,122.91 L260.10,122.91 L259.70,122.75 L259.30,122.96 L258.90,122.82 L258.50,123.17 L258.10,123.51 L257.70,123.15 L257.30,123.17 L256.90,123.41 L256.50,123.61 L256.10,123.76 L255.70,124.46 L255.30,124.29 L254.90,124.34 L254.50,124.39 L254.10,124.39 L253.70,124.44 L253.30,124.50 L252.90,124.76 L252.50,124.95 L252.10,125.26 L251.70,124.89 L251.30,124.87 L250.90,125.62 L250.50,125.62 L250.10,125.99 L249.70,125.52 L249.30,126.00 L248.90,125.91 L248.50,125.59 L248.10,126.15 L247.70,126.66 L247.30,126.70 L246.90,126.70 L246.50,126.87 L246.10,126.66 L245.70,126.97 L245.30,127.07 L244.90,127.25 L244.50,127.33 L244.10,127.66 L243.70,127.81 L243.30,127.85 L242.90,127.62 L242.50,127.63 L242.10,128.28 L241.70,128.25 L241.30,128.29 L240.90,128.78 L240.50,128.77 L240.10,129.02 L239.70,129.25 L239.30,128.99 L238.90,129.25 L238.50,129.24 L238.10,129.83 L237.70,129.67 L237.30,129.83 L236.90,129.73 L236.50,130.03 L236.10,130.13 L235.70,130.24 L235.30,130.38 L234.90,130.38 L234.50,130.89 L234.10,130.41 L233.70,130.50 L233.30,130.89 L232.90,130.57 L232.50,131.09 L232.10,131.20 L231.70,131.30 L231.30,131.42 L230.90,131.39 L230.50,132.10 L230.10,132.10 L229.70,132.64 L229.30,132.40 L228.90,132.37 L228.50,132.39 L228.10,132.51 L227.70,132.87 L227.30,132.70 L226.90,132.64 L226.50,133.27 L226.10,133.56 L225.70,133.30 L225.30,133.39 L224.90,133.24 L224.50,133.70 L224.10,133.78 L223.70,134.08 L223.30,134.31 L222.90,134.00 L222.50,134.01 L222.10,134.32 L221.70,134.77 L221.30,135.22 L220.90,134.77 L220.50,135.27 L220.10,135.13 L219.70,135.31 L219.30,134.90 L218.90,135.29 L218.50,135.51 L218.10,135.67 L217.70,135.77 L217.30,135.70 L216.90,136.34 L216.50,135.98 L216.10,136.50 L215.70,136.81 L215.30,136.21 L214.90,136.52 L214.50,137.01 L214.10,137.06 L213.70,136.86 L213.30,136.89 L212.90,137.22 L212.50,137.48 L212.10,137.50 L211.70,137.58 L211.30,137.72 L210.90,137.45 L210.50,138.01 L210.10,138.22 L209.70,138.91 L209.30,138.73 L208.90,139.17 L208.50,139.08 L208.10,139.36 L207.70,138.74 L207.30,139.80 L206.90,139.39 L206.50,139.42 L206.10,139.42 L205.70,140.03 L205.30,139.36 L204.90,140.17 L204.50,140.18 L204.10,140.30 L203.70,140.39 L203.30,140.40 L202.90,140.40 L202.50,140.52 L202.10,140.81 L201.70,141.36 L201.30,140.97 L200.90,141.37 L200.50,141.44 L200.10,141.68 L199.70,141.71 L199.30,142.09 L198.90,141.91 L198.50,141.86 L198.10,141.60 L197.70,142.11 L197.30,142.33 L196.90,142.58 L196.50,143.13 L196.10,142.86 L195.70,143.11 L195.30,143.11 L194.90,143.15 L194.50,143.52 L194.10,143.63 L193.70,143.88 L193.30,143.91 L192.90,143.91 L192.50,144.03 L192.10,143.97 L191.70,143.98 L191.30,144.37 L190.90,144.89 L190.50,144.89 L190.10,144.91 L189.70,144.69 L189.30,144.52 L188.90,145.04 L188.50,145.57 L188.10,145.36 L187.70,145.74 L187.30,145.41 L186.90,145.81 L186.50,146.18 L186.10,146.44 L185.70,146.42 L185.30,146.84 L184.90,146.69 L184.50,146.52 L184.10,146.70 L183.70,146.78 L183.30,146.61 L182.90,146.89 L182.50,146.93 L182.10,147.48 L181.70,148.35 L181.30,147.86 L180.90,148.06 L180.50,148.23 L180.10,147.90 L179.70,148.17 L179.30,148.45 L178.90,148.37 L178.50,149.11 L178.10,148.98 L177.70,148.90 L177.30,149.09 L176.90,148.85 L176.50,148.85 L176.10,149.68 L175.70,149.56 L175.30,150.14 L174.90,149.85 L174.50,150.26 L174.10,149.85 L173.70,150.42 L173.30,150.69 L172.90,151.15 L172.50,150.76 L172.10,150.98 L171.70,150.96 L171.30,151.09 L170.90,151.31 L170.50,151.20 L170.10,151.20 L169.70,151.41 L169.30,152.13 L168.90,152.15 L168.50,152.58 L168.10,152.23 L167.70,152.29 L167.30,153.06 L166.90,152.64 L166.50,152.49 L166.10,152.73 L165.70,153.52 L165.30,153.14 L164.90,153.72 L164.50,153.40 L164.10,154.17 L163.70,153.83 L163.30,153.63 L162.90,153.84 L162.50,154.31 L162.10,154.19 L161.70,155.03 L161.30,155.13 L160.90,154.86 L160.50,154.74 L160.10,154.91 L159.70,154.85 L159.30,155.94 L158.90,155.49 L158.50,155.54 L158.10,155.72 L157.70,156.20 L157.30,156.02 L156.90,156.02 L156.50,156.72 L156.10,156.49 L155.70,155.89 L155.30,156.31 L154.90,157.23 L154.50,157.15 L154.10,157.67 L153.70,157.46 L153.30,157.37 L152.90,157.28 L152.50,158.28 L152.10,158.28 L151.70,158.11 L151.30,157.43 L150.90,157.85 L150.50,158.57 L150.10,158.40 L149.70,158.55 L149.30,159.44 L148.90,158.63 L148.50,159.48 L148.10,159.21 L147.70,159.33 L147.30,159.33 L146.90,159.63 L146.50,159.77 L146.10,160.95 L145.70,160.04 L145.30,160.07 L144.90,160.83 L144.50,160.93 L144.10,160.95 L143.70,161.21 L143.30,160.73 L142.90,161.02 L142.50,160.95 L142.10,160.93 L141.70,161.25 L141.30,162.57 L140.90,161.81 L140.50,161.42 L140.10,161.42 L139.70,162.44 L139.30,162.53 L138.90,162.34 L138.50,162.90 L138.10,162.54 L137.70,162.74 L137.30,163.16 L136.90,163.86 L136.50,162.84 L136.10,163.47 L135.70,163.31 L135.30,163.91 L134.90,164.04 L134.50,163.70 L134.10,163.70 L133.70,163.66 L133.30,164.58 L132.90,164.58 L132.50,164.27 L132.10,165.05 L131.70,165.24 L131.30,164.95 L130.90,166.05 L130.50,165.28 L130.10,165.23 L129.70,165.03 L129.30,164.11 L128.90,165.70 L128.50,165.38 L128.10,165.66 L127.70,165.90 L127.30,165.93 L126.90,166.47 L126.50,166.45 L126.10,166.76 L125.70,166.76 L125.30,166.69 L124.90,167.41 L124.50,167.21 L124.10,168.29 L123.70,168.72 L123.30,168.72 L122.90,167.49 L122.50,167.56 L122.10,167.83 L121.70,168.16 L121.30,168.53 L120.90,168.53 L120.50,168.16 L120.10,168.59 L119.70,168.59 L119.30,168.06 L118.90,168.23 L118.50,168.92 L118.10,168.95 L117.70,168.38 L117.30,169.45 L116.90,168.72 L116.50,169.79 L116.10,169.79 L115.70,169.27 L115.30,169.99 L114.90,170.36 L114.50,169.81 L114.10,169.82 L113.70,169.96 L113.30,171.23 L112.90,170.97 L112.50,171.07 L112.10,171.62 L111.70,170.94 L111.30,170.94 L110.90,170.89 L110.50,171.42 L110.10,171.42 L109.70,171.39 L109.30,171.55 L108.90,171.55 L108.50,171.49 L108.10,171.76 L107.70,172.05 L107.30,172.91 L106.90,171.64 L106.50,172.07 L106.10,172.36 L105.70,172.23 L105.30,172.08 L104.90,172.52 L104.50,172.87 L104.10,172.49 L103.70,173.07 L103.30,172.99 L102.90,173.90 L102.50,174.62 L102.10,174.21 L101.70,173.85 L101.30,173.43 L100.90,173.93 L100.50,174.28 L100.10,173.48 L99.70,173.64 L99.30,174.24 L98.90,174.38 L98.50,174.13 L98.10,175.26 L97.70,174.69 L97.30,175.61 L96.90,175.61 L96.50,174.84 L96.10,174.53 L95.70,175.16 L95.30,175.72 L94.90,175.95 L94.50,175.95 L94.10,175.85 L93.70,175.81 L93.30,175.81 L92.90,175.97 L92.50,176.31 L92.10,176.56 L91.70,177.78 L91.30,177.12 L90.90,176.17 L90.50,175.97 L90.10,177.02 L89.70,177.09 L89.30,177.55 L88.90,177.50 L88.50,177.50 L88.10,177.92 L87.70,177.62 L87.30,178.06 L86.90,178.05 L86.50,178.40 L86.10,177.53 L85.70,178.52 L85.30,177.95 L84.90,177.78 L84.50,178.70 L84.10,179.99 L83.70,179.03 L83.30,178.61 L82.90,179.12 L82.50,179.45 L82.10,179.62 L81.70,179.69 L81.30,180.47 L80.90,179.67 L80.50,180.05 L80.10,179.71 L79.70,180.14 L79.30,180.89 L78.90,180.89 L78.50,180.49 L78.10,179.67 L77.70,179.81 L77.30,180.13 L76.90,180.64 L76.50,182.04 L76.10,180.74 L75.70,180.83 L75.30,181.05 L74.90,181.20 L74.50,181.70 L74.10,181.30 L73.70,181.62 L73.30,181.13 L72.90,183.01 L72.50,182.11 L72.10,182.10 L71.70,182.51 L71.30,183.08 L70.90,183.07 L70.50,182.04 L70.10,182.08 L69.70,182.93 L69.30,182.93 L68.90,182.49 L68.50,183.33 L68.10,182.78 L67.70,184.12 L67.30,183.93 L66.90,183.33 L66.50,184.04 L66.10,183.97 L65.70,184.07 L65.30,184.34 L64.90,183.91 L64.50,184.62 L64.10,184.85 L63.70,186.04 L63.30,186.04 L62.90,184.99 L62.50,185.26 L62.10,185.26 L61.70,185.90 L61.30,186.37 L60.90,185.30 L60.50,185.81 L60.10,185.60 L59.70,186.38 L59.30,186.90 L58.90,187.11 L58.50,185.67 L58.10,186.65 L57.70,186.41 L57.30,188.17 L56.90,186.65 L56.50,187.47 L56.10,186.94 L55.70,187.65 L55.30,187.55 L54.90,187.21 L54.50,187.92 L54.10,186.97 L53.70,187.48 L53.30,187.77 L52.90,188.83 L52.50,188.83 L52.10,188.17 L51.70,189.17 L51.30,189.17 L50.90,188.78 L50.50,189.14 L50.10,189.58 L49.70,190.58 L49.30,188.16 L48.90,189.37 L48.50,189.96 L48.10,189.27 L47.70,188.55 L47.30,190.77 L46.90,190.02 L46.50,189.32 L46.10,189.35 L45.70,189.40 L45.30,189.53 L44.90,189.90 L44.50,190.96 L44.10,191.10 L43.70,190.15 L43.30,190.69 L42.90,190.69 L42.50,191.61 L42.10,191.15 L41.70,191.27 L41.30,190.99 L40.90,191.30 L40.50,192.21 L40.10,192.04 L39.70,191.58 L39.30,191.98 L38.90,191.69 L38.50,192.36 L38.10,192.36 L37.70,192.85 L37.30,193.12 L36.90,193.12 L36.50,192.83 L36.10,192.37 L35.70,194.44 L35.30,193.54 L34.90,194.63 L34.50,194.31 L34.10,194.44 L33.70,194.06 L33.30,193.06 L32.90,192.98 L32.50,194.06 L32.10,194.44 L31.70,195.36 L31.30,193.91 L30.90,193.95 L30.50,194.72 L30.10,194.03 L29.70,195.59 L29.30,195.29 L28.90,195.39Z" fill="#ff0000" stroke="#ff0000" stroke-width="0.6" stroke-linejoin="round"/>
<path d="M28.90,258.53 L29.30,256.97 L29.70,259.79 L30.10,257.54 L30.50,256.03 L30.90,252.98 L31.30,258.16 L31.70,252.94 L32.10,253.45 L32.50,253.45 L32.90,256.12 L33.30,255.91 L33.70,254.75 L34.10,255.02 L34.50,252.82 L34.90,252.82 L35.30,253.87 L35.70,255.24 L36.10,251.73 L36.50,255.85 L36.90,250.95 L37.30,254.60 L37.70,252.70 L38.10,253.20 L38.50,253.19 L38.90,254.25 L39.30,252.63 L39.70,251.41 L40.10,249.15 L40.50,249.84 L40.90,256.61 L41.30,255.58 L41.70,250.49 L42.10,250.49 L42.50,251.45 L42.90,253.41 L43.30,252.20 L43.70,253.23 L44.10,253.97 L44.50,251.62 L44.90,251.61 L45.30,250.34 L45.70,253.97 L46.10,254.50 L46.50,250.04 L46.90,249.79 L47.30,251.35 L47.70,252.25 L48.10,252.23 L48.50,251.34 L48.90,248.53 L49.30,252.19 L49.70,249.42 L50.10,251.89 L50.50,250.44 L50.90,249.85 L51.30,248.18 L51.70,250.80 L52.10,251.02 L52.50,248.58 L52.90,248.58 L53.30,245.06 L53.70,246.31 L54.10,246.94 L54.50,247.81 L54.90,249.42 L55.30,249.16 L55.70,249.38 L56.10,245.97 L56.50,245.97 L56.90,247.69 L57.30,248.39 L57.70,247.43 L58.10,248.98 L58.50,247.18 L58.90,249.23 L59.30,243.77 L59.70,248.71 L60.10,246.44 L60.50,247.08 L60.90,247.73 L61.30,244.44 L61.70,242.69 L62.10,248.36 L62.50,247.65 L62.90,242.43 L63.30,249.50 L63.70,246.04 L64.10,244.75 L64.50,244.11 L64.90,244.11 L65.30,245.54 L65.70,247.50 L66.10,245.30 L66.50,244.44 L66.90,245.89 L67.30,246.75 L67.70,246.94 L68.10,242.95 L68.50,245.82 L68.90,244.31 L69.30,246.19 L69.70,244.90 L70.10,245.09 L70.50,242.64 L70.90,246.06 L71.30,242.78 L71.70,243.55 L72.10,243.55 L72.50,244.34 L72.90,243.49 L73.30,243.49 L73.70,245.32 L74.10,242.06 L74.50,245.06 L74.90,241.83 L75.30,244.18 L75.70,244.18 L76.10,242.35 L76.50,242.12 L76.90,242.12 L77.30,240.59 L77.70,239.84 L78.10,241.47 L78.50,238.23 L78.90,240.50 L79.30,240.67 L79.70,241.19 L80.10,239.53 L80.50,240.42 L80.90,239.66 L81.30,239.11 L81.70,240.72 L82.10,242.61 L82.50,241.61 L82.90,240.47 L83.30,239.71 L83.70,239.87 L84.10,237.58 L84.50,237.50 L84.90,237.05 L85.30,238.72 L85.70,239.04 L86.10,237.30 L86.50,235.67 L86.90,238.36 L87.30,237.75 L87.70,240.95 L88.10,240.76 L88.50,237.35 L88.90,238.59 L89.30,234.29 L89.70,236.78 L90.10,234.40 L90.50,237.91 L90.90,239.28 L91.30,236.36 L91.70,237.36 L92.10,237.64 L92.50,236.14 L92.90,237.12 L93.30,235.94 L93.70,237.06 L94.10,234.79 L94.50,234.15 L94.90,233.69 L95.30,230.98 L95.70,235.98 L96.10,234.68 L96.50,235.29 L96.90,233.44 L97.30,236.26 L97.70,232.81 L98.10,232.50 L98.50,233.95 L98.90,233.79 L99.30,235.46 L99.70,232.57 L100.10,231.83 L100.50,232.45 L100.90,232.37 L101.30,231.77 L101.70,230.79 L102.10,232.84 L102.50,230.35 L102.90,231.56 L103.30,231.97 L103.70,232.65 L104.10,232.20 L104.50,232.20 L104.90,232.89 L105.30,233.39 L105.70,232.27 L106.10,233.76 L106.50,234.02 L106.90,232.50 L107.30,230.79 L107.70,230.91 L108.10,225.96 L108.50,230.45 L108.90,229.89 L109.30,228.57 L109.70,230.72 L110.10,227.77 L110.50,227.77 L110.90,229.53 L111.30,230.85 L111.70,229.40 L112.10,226.36 L112.50,229.71 L112.90,229.71 L113.30,229.96 L113.70,231.44 L114.10,229.25 L114.50,226.83 L114.90,230.27 L115.30,227.77 L115.70,227.93 L116.10,229.52 L116.50,230.48 L116.90,229.23 L117.30,229.08 L117.70,227.27 L118.10,225.57 L118.50,228.48 L118.90,227.58 L119.30,225.04 L119.70,225.71 L120.10,225.94 L120.50,224.31 L120.90,228.48 L121.30,225.40 L121.70,226.59 L122.10,227.34 L122.50,225.69 L122.90,224.84 L123.30,225.68 L123.70,228.21 L124.10,225.47 L124.50,226.78 L124.90,225.79 L125.30,225.06 L125.70,224.57 L126.10,224.09 L126.50,225.01 L126.90,226.04 L127.30,224.83 L127.70,226.46 L128.10,226.68 L128.50,223.40 L128.90,223.59 L129.30,222.92 L129.70,223.12 L130.10,222.43 L130.50,222.84 L130.90,221.03 L131.30,220.50 L131.70,221.15 L132.10,222.53 L132.50,220.73 L132.90,222.10 L133.30,222.80 L133.70,220.75 L134.10,221.42 L134.50,223.05 L134.90,222.48 L135.30,223.19 L135.70,220.94 L136.10,222.63 L136.50,220.90 L136.90,222.25 L137.30,220.04 L137.70,221.82 L138.10,219.89 L138.50,219.66 L138.90,218.67 L139.30,219.51 L139.70,220.18 L140.10,218.68 L140.50,218.60 L140.90,217.89 L141.30,218.50 L141.70,218.50 L142.10,219.34 L142.50,217.97 L142.90,219.69 L143.30,219.47 L143.70,217.71 L144.10,218.16 L144.50,218.30 L144.90,216.87 L145.30,216.87 L145.70,217.96 L146.10,217.37 L146.50,216.56 L146.90,216.23 L147.30,214.28 L147.70,214.28 L148.10,215.95 L148.50,216.49 L148.90,216.30 L149.30,215.54 L149.70,215.06 L150.10,215.64 L150.50,214.24 L150.90,215.08 L151.30,212.48 L151.70,215.63 L152.10,215.00 L152.50,213.70 L152.90,211.83 L153.30,213.00 L153.70,213.73 L154.10,212.31 L154.50,211.33 L154.90,211.33 L155.30,212.45 L155.70,212.10 L156.10,212.10 L156.50,212.94 L156.90,213.82 L157.30,212.17 L157.70,213.10 L158.10,213.26 L158.50,212.25 L158.90,211.60 L159.30,210.87 L159.70,211.30 L160.10,210.75 L160.50,209.65 L160.90,209.65 L161.30,210.96 L161.70,209.88 L162.10,209.70 L162.50,207.61 L162.90,208.17 L163.30,209.83 L163.70,208.79 L164.10,207.77 L164.50,207.77 L164.90,208.27 L165.30,208.98 L165.70,208.95 L166.10,208.47 L166.50,208.59 L166.90,207.66 L167.30,207.78 L167.70,206.92 L168.10,207.23 L168.50,206.92 L168.90,206.29 L169.30,206.68 L169.70,205.38 L170.10,205.36 L170.50,205.00 L170.90,206.00 L171.30,206.25 L171.70,205.57 L172.10,205.14 L172.50,204.16 L172.90,204.16 L173.30,205.67 L173.70,203.73 L174.10,204.64 L174.50,204.55 L174.90,205.01 L175.30,202.93 L175.70,204.98 L176.10,203.62 L176.50,202.84 L176.90,203.69 L177.30,203.47 L177.70,201.70 L178.10,202.54 L178.50,203.18 L178.90,203.21 L179.30,203.28 L179.70,201.66 L180.10,201.66 L180.50,202.39 L180.90,201.30 L181.30,201.43 L181.70,200.88 L182.10,199.91 L182.50,201.81 L182.90,200.92 L183.30,200.67 L183.70,200.68 L184.10,200.43 L184.50,198.08 L184.90,199.78 L185.30,199.98 L185.70,198.46 L186.10,197.73 L186.50,197.48 L186.90,198.41 L187.30,198.02 L187.70,198.12 L188.10,195.90 L188.50,195.90 L188.90,196.84 L189.30,196.76 L189.70,197.66 L190.10,196.50 L190.50,197.26 L190.90,197.26 L191.30,197.47 L191.70,194.76 L192.10,194.76 L192.50,195.00 L192.90,195.11 L193.30,194.32 L193.70,194.76 L194.10,193.53 L194.50,194.62 L194.90,194.25 L195.30,192.86 L195.70,193.60 L196.10,195.01 L196.50,194.67 L196.90,193.39 L197.30,192.40 L197.70,192.48 L198.10,192.05 L198.50,191.17 L198.90,190.86 L199.30,191.59 L199.70,191.38 L200.10,191.31 L200.50,191.10 L200.90,191.11 L201.30,190.35 L201.70,190.35 L202.10,191.22 L202.50,190.75 L202.90,190.07 L203.30,190.29 L203.70,190.12 L204.10,188.69 L204.50,190.46 L204.90,188.40 L205.30,188.56 L205.70,189.20 L206.10,188.81 L206.50,188.46 L206.90,188.28 L207.30,188.04 L207.70,187.12 L208.10,187.16 L208.50,187.33 L208.90,187.36 L209.30,184.86 L209.70,187.19 L210.10,184.34 L210.50,184.23 L210.90,185.47 L211.30,186.26 L211.70,185.55 L212.10,185.90 L212.50,184.98 L212.90,184.84 L213.30,183.36 L213.70,183.36 L214.10,184.31 L214.50,184.17 L214.90,184.72 L215.30,183.34 L215.70,182.76 L216.10,181.77 L216.50,182.54 L216.90,180.98 L217.30,181.83 L217.70,182.13 L218.10,181.35 L218.50,182.10 L218.90,181.78 L219.30,179.74 L219.70,181.47 L220.10,181.00 L220.50,180.15 L220.90,180.91 L221.30,179.37 L221.70,179.12 L222.10,179.12 L222.50,179.79 L222.90,178.54 L223.30,178.69 L223.70,178.22 L224.10,178.49 L224.50,178.41 L224.90,178.71 L225.30,178.07 L225.70,178.40 L226.10,177.67 L226.50,177.03 L226.90,176.16 L227.30,175.43 L227.70,176.88 L228.10,175.86 L228.50,176.02 L228.90,174.82 L229.30,174.43 L229.70,174.17 L230.10,175.13 L230.50,175.13 L230.90,174.78 L231.30,174.24 L231.70,174.11 L232.10,173.27 L232.50,173.02 L232.90,173.02 L233.30,170.50 L233.70,172.62 L234.10,171.75 L234.50,171.68 L234.90,170.69 L235.30,170.69 L235.70,170.74 L236.10,170.57 L236.50,170.80 L236.90,170.48 L237.30,169.05 L237.70,170.17 L238.10,168.62 L238.50,168.35 L238.90,168.35 L239.30,168.99 L239.70,166.74 L240.10,168.45 L240.50,168.06 L240.90,167.07 L241.30,167.04 L241.70,166.46 L242.10,167.56 L242.50,166.13 L242.90,165.68 L243.30,165.20 L243.70,164.84 L244.10,164.64 L244.50,164.32 L244.90,165.31 L245.30,165.12 L245.70,163.50 L246.10,163.89 L246.50,164.15 L246.90,164.31 L247.30,163.86 L247.70,162.28 L248.10,162.71 L248.50,163.17 L248.90,162.93 L249.30,161.77 L249.70,162.20 L250.10,161.57 L250.50,161.14 L250.90,160.90 L251.30,161.05 L251.70,159.30 L252.10,160.85 L252.50,159.36 L252.90,159.48 L253.30,159.80 L253.70,158.42 L254.10,158.76 L254.50,159.18 L254.90,158.83 L255.30,158.21 L255.70,158.70 L256.10,157.99 L256.50,157.71 L256.90,156.60 L257.30,156.97 L257.70,156.79 L258.10,155.96 L258.50,156.66 L258.90,156.35 L259.30,155.41 L259.70,155.36 L260.10,154.52 L260.50,154.52 L260.90,154.49 L261.30,153.96 L261.70,154.74 L262.10,153.80 L262.50,153.00 L262.90,152.37 L263.30,152.79 L263.70,153.01 L264.10,152.69 L264.50,151.14 L264.90,151.59 L265.30,151.39 L265.70,150.87 L266.10,150.98 L266.50,150.98 L266.90,150.43 L267.30,149.87 L267.70,149.87 L268.10,150.52 L268.50,148.77 L268.90,148.77 L269.30,149.63 L269.70,148.99 L270.10,148.55 L270.50,147.64 L270.90,147.89 L271.30,147.78 L271.70,147.14 L272.10,147.27 L272.50,147.66 L272.90,146.68 L273.30,146.82 L273.70,146.42 L274.10,145.57 L274.50,145.62 L274.90,145.10 L275.30,145.10 L275.70,145.08 L276.10,144.73 L276.50,143.82 L276.90,144.07 L277.30,144.16 L277.70,144.47 L278.10,143.50 L278.50,142.58 L278.90,143.11 L279.30,142.44 L279.70,141.90 L280.10,142.07 L280.50,142.36 L280.90,141.70 L281.30,141.72 L281.70,140.84 L282.10,140.84 L282.50,140.21 L282.90,139.62 L283.30,139.62 L283.70,139.87 L284.10,138.83 L284.50,138.83 L284.90,139.25 L285.30,138.66 L285.70,138.43 L286.10,138.12 L286.50,137.16 L286.90,137.18 L287.30,136.75 L287.70,136.77 L288.10,136.35 L288.50,136.21 L288.90,136.33 L289.30,135.84 L289.70,135.27 L290.10,134.88 L290.50,134.33 L290.90,133.98 L291.30,133.80 L291.70,133.57 L292.10,133.02 L292.50,132.94 L292.90,133.06 L293.30,132.17 L293.70,131.52 L294.10,131.77 L294.50,131.12 L294.90,130.64 L295.30,130.82 L295.70,130.64 L296.10,130.37 L296.50,130.19 L296.90,129.80 L297.30,129.81 L297.70,128.76 L298.10,128.86 L298.50,128.29 L298.90,127.60 L299.30,127.95 L299.70,127.13 L300.10,127.13 L300.50,126.33 L300.90,126.24 L301.30,126.17 L301.70,125.31 L302.10,124.89 L302.50,125.65 L302.90,125.01 L303.30,124.55 L303.70,123.74 L304.10,124.03 L304.50,124.02 L304.90,123.15 L305.30,122.50 L305.70,122.77 L306.10,122.86 L306.50,122.24 L306.90,121.65 L307.30,121.34 L307.70,121.40 L308.10,121.02 L308.50,120.76 L308.90,120.51 L309.30,119.89 L309.70,119.77 L310.10,119.41 L310.50,118.99 L310.90,118.94 L311.30,119.16 L311.70,118.09 L312.10,117.91 L312.50,118.10 L312.90,117.64 L313.30,117.09 L313.70,116.71 L314.10,116.82 L314.50,116.55 L314.90,115.87 L315.30,116.22 L315.70,115.57 L316.10,115.28 L316.50,115.33 L316.90,114.54 L317.30,114.92 L317.70,114.26 L318.10,113.85 L318.50,113.78 L318.90,112.68 L319.30,112.68 L319.70,112.82 L320.10,112.57 L320.50,112.55 L320.90,112.57 L321.30,111.86 L321.70,111.37 L322.10,111.15 L322.50,110.95 L322.90,110.58 L323.30,110.32 L323.70,110.09 L324.10,109.91 L324.50,109.72 L324.90,108.95 L325.30,109.13 L325.70,108.95 L326.10,108.19 L326.50,108.18 L326.90,107.46 L327.30,107.75 L327.70,107.05 L328.10,107.04 L328.50,106.51 L328.90,106.12 L329.30,106.14 L329.70,105.26 L330.10,105.26 L330.50,104.98 L330.90,104.94 L331.30,104.43 L331.70,103.85 L332.10,103.02 L332.50,103.02 L332.90,103.23 L333.30,103.03 L333.70,102.28 L334.10,102.01 L334.50,101.43 L334.90,101.43 L335.30,101.50 L335.70,101.21 L336.10,100.80 L336.50,100.30 L336.90,100.39 L337.30,99.98 L337.70,99.74 L338.10,99.48 L338.50,99.11 L338.90,99.24 L339.30,98.85 L339.70,98.52 L340.10,98.43 L340.50,98.15 L340.90,97.58 L341.30,97.26 L341.70,97.51 L342.10,97.11 L342.50,96.99 L342.90,96.81 L343.30,96.51 L343.70,96.31 L344.10,96.01 L344.50,95.69 L344.90,95.24 L345.30,95.08 L345.70,95.08 L346.10,95.16 L346.50,94.73 L346.90,94.03 L347.30,94.17 L347.70,94.15 L348.10,94.02 L348.50,93.71 L348.90,93.60 L349.30,93.53 L349.70,93.25 L350.10,92.74 L350.50,92.49 L350.90,92.35 L351.30,92.57 L351.70,92.29 L352.10,92.05 L352.50,91.78 L352.90,91.62 L353.30,91.53 L353.70,91.43 L354.10,91.31 L354.50,91.12 L354.90,91.11 L355.30,91.01 L355.70,90.55 L356.10,90.75 L356.50,91.17 L356.90,90.37 L357.30,90.05 L357.70,90.27 L358.10,90.16 L358.50,90.19 L358.90,89.44 L359.30,89.72 L359.70,89.82 L360.10,89.51 L360.50,89.82 L360.90,89.52 L361.30,89.52 L361.70,89.41 L362.10,89.20 L362.50,88.56 L362.90,88.99 L363.30,89.18 L363.70,89.15 L364.10,89.03 L364.50,89.09 L364.90,89.01 L365.30,88.96 L365.70,88.96 L366.10,88.96 L366.50,88.86 L366.90,89.01 L367.30,89.01 L367.70,89.23 L368.10,88.88 L368.50,88.88 L368.90,89.58 L369.30,89.44 L369.70,89.30 L370.10,89.32 L370.50,89.72 L370.90,89.55 L371.30,89.96 L371.70,90.06 L372.10,90.41 L372.50,90.59 L372.90,90.46 L373.30,90.83 L373.70,90.67 L374.10,90.90 L374.50,91.54 L374.90,91.70 L375.30,91.78 L375.70,91.83 L376.10,91.97 L376.50,92.16 L376.90,93.04 L377.30,93.01 L377.70,93.24 L378.10,93.79 L378.50,94.16 L378.90,94.13 L379.30,94.80 L379.70,95.27 L380.10,95.67 L380.50,96.03 L380.90,96.68 L381.30,97.17 L381.70,97.57 L382.10,97.90 L382.50,99.17 L382.90,99.71 L383.30,100.07 L383.70,100.79 L384.10,101.86 L384.50,101.89 L384.90,102.89 L385.30,103.69 L385.70,104.58 L386.10,105.73 L386.50,106.52 L386.90,106.91 L387.30,108.28 L387.70,108.91 L388.10,110.31 L388.50,111.11 L388.90,111.95 L389.30,113.21 L389.70,114.78 L390.10,115.80 L390.50,116.69 L390.90,117.98 L391.30,119.07 L391.70,120.92 L392.10,122.54 L392.50,124.18 L392.90,126.50 L393.30,129.36 L393.30,133.30 L392.90,130.06 L392.50,127.20 L392.10,124.88 L391.70,123.77 L391.30,121.62 L390.90,119.77 L390.50,119.48 L390.10,117.39 L389.70,116.50 L389.30,115.48 L388.90,113.91 L388.50,112.65 L388.10,111.81 L387.70,111.01 L387.30,109.65 L386.90,109.14 L386.50,107.87 L386.10,107.22 L385.70,106.43 L385.30,105.54 L384.90,104.53 L384.50,103.59 L384.10,102.96 L383.70,102.96 L383.30,101.49 L382.90,100.97 L382.50,100.41 L382.10,99.87 L381.70,99.12 L381.30,99.10 L380.90,97.87 L380.50,97.38 L380.10,96.89 L379.70,96.47 L379.30,96.08 L378.90,95.64 L378.50,95.15 L378.10,95.08 L377.70,94.49 L377.30,94.21 L376.90,94.11 L376.50,93.74 L376.10,93.34 L375.70,93.42 L375.30,93.42 L374.90,92.77 L374.50,92.64 L374.10,92.34 L373.70,92.10 L373.30,91.80 L372.90,91.93 L372.50,91.48 L372.10,91.38 L371.70,91.38 L371.30,91.21 L370.90,91.03 L370.50,91.03 L370.10,90.76 L369.70,90.78 L369.30,90.57 L368.90,90.60 L368.50,90.35 L368.10,90.24 L367.70,90.44 L367.30,90.34 L366.90,90.05 L366.50,90.06 L366.10,89.91 L365.70,89.99 L365.30,90.05 L364.90,89.89 L364.50,90.14 L364.10,90.21 L363.70,90.28 L363.30,90.29 L362.90,90.56 L362.50,90.31 L362.10,90.16 L361.70,90.56 L361.30,90.66 L360.90,90.55 L360.50,90.60 L360.10,90.52 L359.70,90.74 L359.30,90.65 L358.90,91.06 L358.50,91.19 L358.10,91.06 L357.70,91.33 L357.30,91.23 L356.90,91.98 L356.50,91.95 L356.10,91.88 L355.70,91.71 L355.30,91.81 L354.90,92.15 L354.50,92.01 L354.10,92.72 L353.70,92.72 L353.30,92.43 L352.90,92.62 L352.50,93.15 L352.10,93.69 L351.70,93.46 L351.30,93.72 L350.90,93.27 L350.50,93.86 L350.10,94.38 L349.70,94.57 L349.30,94.95 L348.90,95.12 L348.50,94.90 L348.10,95.34 L347.70,95.34 L347.30,95.49 L346.90,95.70 L346.50,96.17 L346.10,96.13 L345.70,96.08 L345.30,96.66 L344.90,96.81 L344.50,96.71 L344.10,97.16 L343.70,97.44 L343.30,97.75 L342.90,97.77 L342.50,97.81 L342.10,98.38 L341.70,98.39 L341.30,98.31 L340.90,98.85 L340.50,99.28 L340.10,99.32 L339.70,99.70 L339.30,99.96 L338.90,100.12 L338.50,100.18 L338.10,100.71 L337.70,101.14 L337.30,101.21 L336.90,101.85 L336.50,101.50 L336.10,102.03 L335.70,102.67 L335.30,102.48 L334.90,102.77 L334.50,103.31 L334.10,103.69 L333.70,103.98 L333.30,104.07 L332.90,104.67 L332.50,104.65 L332.10,104.93 L331.70,105.18 L331.30,105.86 L330.90,105.97 L330.50,106.50 L330.10,106.54 L329.70,107.25 L329.30,107.44 L328.90,107.52 L328.50,107.76 L328.10,107.99 L327.70,108.64 L327.30,108.96 L326.90,108.94 L326.50,109.42 L326.10,109.69 L325.70,110.13 L325.30,110.09 L324.90,110.42 L324.50,111.29 L324.10,110.81 L323.70,111.41 L323.30,111.54 L322.90,111.65 L322.50,111.85 L322.10,112.41 L321.70,112.56 L321.30,113.54 L320.90,113.66 L320.50,113.99 L320.10,114.05 L319.70,114.48 L319.30,114.39 L318.90,114.90 L318.50,115.08 L318.10,114.96 L317.70,115.83 L317.30,116.19 L316.90,116.58 L316.50,116.89 L316.10,116.85 L315.70,117.16 L315.30,117.82 L314.90,117.43 L314.50,118.21 L314.10,118.62 L313.70,118.16 L313.30,118.55 L312.90,118.80 L312.50,119.47 L312.10,119.17 L311.70,120.05 L311.30,120.26 L310.90,120.15 L310.50,120.63 L310.10,120.97 L309.70,121.40 L309.30,121.44 L308.90,121.58 L308.50,121.98 L308.10,122.21 L307.70,122.44 L307.30,123.16 L306.90,123.23 L306.50,123.61 L306.10,123.97 L305.70,124.43 L305.30,124.42 L304.90,125.07 L304.50,125.07 L304.10,125.82 L303.70,125.25 L303.30,126.47 L302.90,126.58 L302.50,126.96 L302.10,127.03 L301.70,126.94 L301.30,126.94 L300.90,127.93 L300.50,127.96 L300.10,128.27 L299.70,128.65 L299.30,128.88 L298.90,128.99 L298.50,129.61 L298.10,130.23 L297.70,131.21 L297.30,131.21 L296.90,131.12 L296.50,131.18 L296.10,131.72 L295.70,131.80 L295.30,132.16 L294.90,132.27 L294.50,133.06 L294.10,133.64 L293.70,132.87 L293.30,134.39 L292.90,134.18 L292.50,134.06 L292.10,134.54 L291.70,134.61 L291.30,134.74 L290.90,135.22 L290.50,135.58 L290.10,136.74 L289.70,137.09 L289.30,137.21 L288.90,137.47 L288.50,137.85 L288.10,137.47 L287.70,138.48 L287.30,138.19 L286.90,138.81 L286.50,139.52 L286.10,139.54 L285.70,139.84 L285.30,139.95 L284.90,140.22 L284.50,140.12 L284.10,141.05 L283.70,141.29 L283.30,141.22 L282.90,141.74 L282.50,142.34 L282.10,142.15 L281.70,142.42 L281.30,143.61 L280.90,143.84 L280.50,143.84 L280.10,143.23 L279.70,143.45 L279.30,143.95 L278.90,144.91 L278.50,144.87 L278.10,145.17 L277.70,145.97 L277.30,145.31 L276.90,145.31 L276.50,146.10 L276.10,146.38 L275.70,146.62 L275.30,146.71 L274.90,146.83 L274.50,147.99 L274.10,147.61 L273.70,148.33 L273.30,148.71 L272.90,148.41 L272.50,148.92 L272.10,148.97 L271.70,149.11 L271.30,149.30 L270.90,149.50 L270.50,149.58 L270.10,150.03 L269.70,150.85 L269.30,150.86 L268.90,151.12 L268.50,151.22 L268.10,151.78 L267.70,151.41 L267.30,153.11 L266.90,152.20 L266.50,152.83 L266.10,153.55 L265.70,153.91 L265.30,152.77 L264.90,153.20 L264.50,154.31 L264.10,154.10 L263.70,154.40 L263.30,154.10 L262.90,154.03 L262.50,155.63 L262.10,155.48 L261.70,155.88 L261.30,155.88 L260.90,156.10 L260.50,156.59 L260.10,156.65 L259.70,156.47 L259.30,157.07 L258.90,159.54 L258.50,158.54 L258.10,158.03 L257.70,158.01 L257.30,158.97 L256.90,159.24 L256.50,159.30 L256.10,160.39 L255.70,160.47 L255.30,160.48 L254.90,160.86 L254.50,160.76 L254.10,160.36 L253.70,161.85 L253.30,161.26 L252.90,161.69 L252.50,162.04 L252.10,162.72 L251.70,162.17 L251.30,162.19 L250.90,163.46 L250.50,163.25 L250.10,163.68 L249.70,163.24 L249.30,163.90 L248.90,164.30 L248.50,164.76 L248.10,164.64 L247.70,165.50 L247.30,165.26 L246.90,165.41 L246.50,165.61 L246.10,166.53 L245.70,166.31 L245.30,166.38 L244.90,166.82 L244.50,166.82 L244.10,166.37 L243.70,166.29 L243.30,167.76 L242.90,166.83 L242.50,169.21 L242.10,169.26 L241.70,168.26 L241.30,170.07 L240.90,169.50 L240.50,169.66 L240.10,169.47 L239.70,170.68 L239.30,170.99 L238.90,170.85 L238.50,170.37 L238.10,171.41 L237.70,172.53 L237.30,171.45 L236.90,171.50 L236.50,171.79 L236.10,172.31 L235.70,172.72 L235.30,174.08 L234.90,173.16 L234.50,173.46 L234.10,173.48 L233.70,174.85 L233.30,173.98 L232.90,174.87 L232.50,175.90 L232.10,175.64 L231.70,175.40 L231.30,175.48 L230.90,177.36 L230.50,177.05 L230.10,177.36 L229.70,176.35 L229.30,175.52 L228.90,177.10 L228.50,177.98 L228.10,177.62 L227.70,178.26 L227.30,178.13 L226.90,178.90 L226.50,179.17 L226.10,179.53 L225.70,179.62 L225.30,181.09 L224.90,180.18 L224.50,180.15 L224.10,181.42 L223.70,181.09 L223.30,181.87 L222.90,180.91 L222.50,181.12 L222.10,181.20 L221.70,182.99 L221.30,182.68 L220.90,182.33 L220.50,184.52 L220.10,185.10 L219.70,184.56 L219.30,183.23 L218.90,183.71 L218.50,184.03 L218.10,184.03 L217.70,184.58 L217.30,185.21 L216.90,183.69 L216.50,185.87 L216.10,185.29 L215.70,185.52 L215.30,185.42 L214.90,187.89 L214.50,186.59 L214.10,185.55 L213.70,185.88 L213.30,186.27 L212.90,186.67 L212.50,186.63 L212.10,186.88 L211.70,187.13 L211.30,188.42 L210.90,188.65 L210.50,186.97 L210.10,188.92 L209.70,188.92 L209.30,188.58 L208.90,188.46 L208.50,190.12 L208.10,188.61 L207.70,190.36 L207.30,190.67 L206.90,190.25 L206.50,190.42 L206.10,190.84 L205.70,190.96 L205.30,192.18 L204.90,191.87 L204.50,193.42 L204.10,192.31 L203.70,194.20 L203.30,192.95 L202.90,191.66 L202.50,192.90 L202.10,192.24 L201.70,192.44 L201.30,194.17 L200.90,193.88 L200.50,193.40 L200.10,193.34 L199.70,194.40 L199.30,195.03 L198.90,194.26 L198.50,192.75 L198.10,194.39 L197.70,194.98 L197.30,195.22 L196.90,196.07 L196.50,195.85 L196.10,196.64 L195.70,196.52 L195.30,196.59 L194.90,197.06 L194.50,197.67 L194.10,197.60 L193.70,197.00 L193.30,197.50 L192.90,196.94 L192.50,196.78 L192.10,197.18 L191.70,199.11 L191.30,199.31 L190.90,198.93 L190.50,199.13 L190.10,198.90 L189.70,201.80 L189.30,200.96 L188.90,199.22 L188.50,199.80 L188.10,201.57 L187.70,202.35 L187.30,200.07 L186.90,200.38 L186.50,200.35 L186.10,200.94 L185.70,200.94 L185.30,201.91 L184.90,201.86 L184.50,201.67 L184.10,202.88 L183.70,202.74 L183.30,202.74 L182.90,205.08 L182.50,205.16 L182.10,203.49 L181.70,203.11 L181.30,202.72 L180.90,203.57 L180.50,204.55 L180.10,203.76 L179.70,204.29 L179.30,204.37 L178.90,207.44 L178.50,207.44 L178.10,204.30 L177.70,207.53 L177.30,207.53 L176.90,205.37 L176.50,206.73 L176.10,206.73 L175.70,208.44 L175.30,206.94 L174.90,207.73 L174.50,206.79 L174.10,207.23 L173.70,207.46 L173.30,208.53 L172.90,206.65 L172.50,208.18 L172.10,210.22 L171.70,208.66 L171.30,208.97 L170.90,208.79 L170.50,208.31 L170.10,209.27 L169.70,210.25 L169.30,209.92 L168.90,208.78 L168.50,209.02 L168.10,210.82 L167.70,210.82 L167.30,212.66 L166.90,209.41 L166.50,210.39 L166.10,210.57 L165.70,210.90 L165.30,211.08 L164.90,212.20 L164.50,212.05 L164.10,211.25 L163.70,212.52 L163.30,212.15 L162.90,211.61 L162.50,212.83 L162.10,211.45 L161.70,213.78 L161.30,214.15 L160.90,213.54 L160.50,215.04 L160.10,213.48 L159.70,213.91 L159.30,216.72 L158.90,213.97 L158.50,214.51 L158.10,214.51 L157.70,216.29 L157.30,215.44 L156.90,215.81 L156.50,216.45 L156.10,216.31 L155.70,216.43 L155.30,216.86 L154.90,217.29 L154.50,217.24 L154.10,216.52 L153.70,217.28 L153.30,216.06 L152.90,217.23 L152.50,216.92 L152.10,216.92 L151.70,218.93 L151.30,217.01 L150.90,217.47 L150.50,216.87 L150.10,218.08 L149.70,217.90 L149.30,218.21 L148.90,219.50 L148.50,218.93 L148.10,218.10 L147.70,218.79 L147.30,217.11 L146.90,219.14 L146.50,220.16 L146.10,220.16 L145.70,219.70 L145.30,221.55 L144.90,219.75 L144.50,222.13 L144.10,222.26 L143.70,220.17 L143.30,222.76 L142.90,222.77 L142.50,221.52 L142.10,221.75 L141.70,221.68 L141.30,221.86 L140.90,224.01 L140.50,224.50 L140.10,224.50 L139.70,221.61 L139.30,224.81 L138.90,224.81 L138.50,223.39 L138.10,222.55 L137.70,225.36 L137.30,225.99 L136.90,225.04 L136.50,223.33 L136.10,224.55 L135.70,224.23 L135.30,226.83 L134.90,224.33 L134.50,226.89 L134.10,223.75 L133.70,225.24 L133.30,225.86 L132.90,225.55 L132.50,226.53 L132.10,227.79 L131.70,227.79 L131.30,225.87 L130.90,224.75 L130.50,226.64 L130.10,228.94 L129.70,227.91 L129.30,224.94 L128.90,226.98 L128.50,227.38 L128.10,228.40 L127.70,228.31 L127.30,228.57 L126.90,228.68 L126.50,229.66 L126.10,226.54 L125.70,227.96 L125.30,230.28 L124.90,229.93 L124.50,231.58 L124.10,229.68 L123.70,229.64 L123.30,229.45 L122.90,231.39 L122.50,232.12 L122.10,232.12 L121.70,229.54 L121.30,230.91 L120.90,233.54 L120.50,231.18 L120.10,229.89 L119.70,229.52 L119.30,229.68 L118.90,229.21 L118.50,234.27 L118.10,230.71 L117.70,231.11 L117.30,231.68 L116.90,231.84 L116.50,233.31 L116.10,231.88 L115.70,232.33 L115.30,232.80 L114.90,232.80 L114.50,232.60 L114.10,232.70 L113.70,234.36 L113.30,232.98 L112.90,233.20 L112.50,235.53 L112.10,235.69 L111.70,236.20 L111.30,234.02 L110.90,233.75 L110.50,236.09 L110.10,236.12 L109.70,235.65 L109.30,236.99 L108.90,236.99 L108.50,233.42 L108.10,233.09 L107.70,234.06 L107.30,235.29 L106.90,237.78 L106.50,237.78 L106.10,235.21 L105.70,236.83 L105.30,235.09 L104.90,235.27 L104.50,235.90 L104.10,236.90 L103.70,235.16 L103.30,234.72 L102.90,234.28 L102.50,234.76 L102.10,238.52 L101.70,237.01 L101.30,235.76 L100.90,237.07 L100.50,238.43 L100.10,238.80 L99.70,236.16 L99.30,238.84 L98.90,240.48 L98.50,237.35 L98.10,236.57 L97.70,237.05 L97.30,239.84 L96.90,239.84 L96.50,240.24 L96.10,241.00 L95.70,240.63 L95.30,239.76 L94.90,239.70 L94.50,240.16 L94.10,239.22 L93.70,240.39 L93.30,240.39 L92.90,242.51 L92.50,238.34 L92.10,242.55 L91.70,239.77 L91.30,243.00 L90.90,242.24 L90.50,242.44 L90.10,239.51 L89.70,240.01 L89.30,240.07 L88.90,243.34 L88.50,243.34 L88.10,243.16 L87.70,245.05 L87.30,242.23 L86.90,240.93 L86.50,239.06 L86.10,240.27 L85.70,242.52 L85.30,241.54 L84.90,248.83 L84.50,243.18 L84.10,243.80 L83.70,243.99 L83.30,244.86 L82.90,242.88 L82.50,246.60 L82.10,247.34 L81.70,245.38 L81.30,242.57 L80.90,244.79 L80.50,243.60 L80.10,244.64 L79.70,247.71 L79.30,246.49 L78.90,245.76 L78.50,246.20 L78.10,248.73 L77.70,246.68 L77.30,244.79 L76.90,246.73 L76.50,245.24 L76.10,247.67 L75.70,250.57 L75.30,250.78 L74.90,252.98 L74.50,248.69 L74.10,246.23 L73.70,253.89 L73.30,251.57 L72.90,247.61 L72.50,247.90 L72.10,249.76 L71.70,245.92 L71.30,248.62 L70.90,250.33 L70.50,250.33 L70.10,251.11 L69.70,247.54 L69.30,248.49 L68.90,250.43 L68.50,250.69 L68.10,249.97 L67.70,253.63 L67.30,249.76 L66.90,250.59 L66.50,252.59 L66.10,253.44 L65.70,253.44 L65.30,253.74 L64.90,250.87 L64.50,255.49 L64.10,252.72 L63.70,254.39 L63.30,254.39 L62.90,255.57 L62.50,249.28 L62.10,253.08 L61.70,251.78 L61.30,250.56 L60.90,252.84 L60.50,254.81 L60.10,251.35 L59.70,253.74 L59.30,252.95 L58.90,251.94 L58.50,252.72 L58.10,254.64 L57.70,256.43 L57.30,256.43 L56.90,252.39 L56.50,254.16 L56.10,253.36 L55.70,255.05 L55.30,255.65 L54.90,255.65 L54.50,253.18 L54.10,252.75 L53.70,257.52 L53.30,253.49 L52.90,253.79 L52.50,251.97 L52.10,255.79 L51.70,254.95 L51.30,255.53 L50.90,257.03 L50.50,252.84 L50.10,259.62 L49.70,255.91 L49.30,255.16 L48.90,256.23 L48.50,256.25 L48.10,255.98 L47.70,255.98 L47.30,257.20 L46.90,252.05 L46.50,256.05 L46.10,256.95 L45.70,258.83 L45.30,257.29 L44.90,255.56 L44.50,257.64 L44.10,257.64 L43.70,257.68 L43.30,257.68 L42.90,258.01 L42.50,258.03 L42.10,256.51 L41.70,259.99 L41.30,259.56 L40.90,259.37 L40.50,258.11 L40.10,259.40 L39.70,258.47 L39.30,258.47 L38.90,257.27 L38.50,259.15 L38.10,259.16 L37.70,262.59 L37.30,260.16 L36.90,261.31 L36.50,263.73 L36.10,260.90 L35.70,260.57 L35.30,258.96 L34.90,259.95 L34.50,259.51 L34.10,260.98 L33.70,258.72 L33.30,258.72 L32.90,264.65 L32.50,261.39 L32.10,261.40 L31.70,258.86 L31.30,261.43 L30.90,259.46 L30.50,260.82 L30.10,264.76 L29.70,266.77 L29.30,261.17 L28.90,262.24Z" fill="#00ff00" stroke="#00ff00" stroke-width="0.5" stroke-linejoin="round"/>
<path d="M120.20,274.95 L120.60,274.95 L121.00,274.95 L121.40,274.95 L121.80,274.95 L122.20,274.95 L122.60,274.95 L123.00,274.95 L123.40,274.95 L123.80,274.95 L124.20,274.95 L124.60,274.95 L125.00,274.95 L125.40,274.95 L125.80,274.95 L126.20,274.95 L126.60,274.95 L127.00,274.95 L127.40,274.95 L127.80,274.95 L128.20,274.95 L128.60,274.95 L129.00,274.95 L129.40,274.95 L129.80,274.95 L130.20,274.95 L130.60,274.95 L131.00,274.95 L131.40,274.95 L131.80,274.95 L132.20,274.95 L132.60,274.95 L133.00,274.95 L133.40,274.95 L133.80,274.95 L134.20,274.95 L134.60,274.95 L135.00,274.95 L135.40,274.95 L135.80,274.95 L136.20,274.95 L136.60,274.95 L137.00,274.95 L137.40,274.95 L137.80,274.95 L138.20,274.95 L138.60,274.95 L139.00,274.95 L139.40,274.95 L139.80,274.95 L140.20,274.95 L140.60,274.95 L141.00,274.95 L141.40,274.95 L141.80,274.95 L142.20,274.95 L142.60,274.95 L143.00,274.95 L143.40,274.95 L143.80,274.95 L144.20,274.95 L144.60,274.95 L145.00,274.95 L145.40,274.95 L145.80,274.95 L146.20,274.95 L146.60,274.95 L147.00,274.95 L147.40,274.95 L147.80,274.95 L148.20,274.95 L148.60,274.95 L149.00,274.95 L149.40,274.95 L149.80,274.95 L150.20,274.95 L150.60,274.95 L151.00,274.95 L151.40,274.95 L151.80,274.95 L152.20,274.95 L152.60,274.95 L153.00,274.87 L153.40,272.69 L153.80,274.95 L154.20,274.95 L154.60,274.95 L155.00,274.95 L155.40,274.61 L155.80,273.92 L156.20,274.95 L156.60,271.88 L157.00,272.90 L157.40,274.95 L157.80,274.95 L158.20,274.95 L158.60,274.13 L159.00,274.15 L159.40,274.18 L159.80,274.19 L160.20,273.15 L160.60,274.95 L161.00,270.19 L161.40,266.65 L161.80,272.45 L162.20,271.25 L162.60,273.72 L163.00,273.33 L163.40,274.95 L163.80,274.47 L164.20,270.41 L164.60,274.95 L165.00,274.95 L165.40,272.46 L165.80,274.95 L166.20,273.22 L166.60,272.53 L167.00,274.95 L167.40,270.62 L167.80,270.65 L168.20,271.63 L168.60,273.72 L169.00,274.13 L169.40,271.54 L169.80,269.83 L170.20,268.96 L170.60,274.90 L171.00,274.95 L171.40,274.95 L171.80,269.98 L172.20,271.90 L172.60,263.48 L173.00,261.38 L173.40,271.96 L173.80,272.00 L174.20,265.07 L174.60,274.95 L175.00,274.95 L175.40,268.43 L175.80,262.96 L176.20,264.51 L176.60,267.63 L177.00,267.66 L177.40,263.77 L177.80,266.07 L178.20,266.91 L178.60,263.13 L179.00,268.63 L179.40,268.66 L179.80,266.23 L180.20,266.23 L180.60,264.71 L181.00,267.11 L181.40,267.11 L181.80,272.52 L182.20,268.86 L182.60,268.88 L183.00,268.90 L183.40,262.07 L183.80,262.07 L184.20,270.79 L184.60,274.95 L185.00,261.49 L185.40,264.82 L185.80,261.54 L186.20,263.62 L186.60,268.30 L187.00,269.19 L187.40,268.37 L187.80,259.15 L188.20,271.06 L188.60,260.46 L189.00,261.12 L189.40,266.89 L189.80,265.14 L190.20,258.74 L190.60,263.27 L191.00,261.35 L191.40,254.93 L191.80,264.77 L192.20,263.37 L192.60,261.40 L193.00,264.14 L193.40,265.65 L193.80,260.85 L194.20,266.54 L194.60,260.29 L195.00,262.02 L195.40,257.40 L195.80,260.83 L196.20,260.41 L196.60,265.79 L197.00,258.12 L197.40,263.86 L197.80,260.57 L198.20,258.79 L198.60,258.85 L199.00,260.55 L199.40,263.10 L199.80,255.66 L200.20,258.23 L200.60,253.72 L201.00,257.65 L201.40,255.78 L201.80,259.11 L202.20,255.36 L202.60,256.83 L203.00,259.46 L203.40,256.49 L203.80,255.51 L204.20,252.17 L204.60,256.20 L205.00,256.11 L205.40,254.14 L205.80,257.22 L206.20,255.21 L206.60,254.24 L207.00,257.45 L207.40,254.31 L207.80,252.04 L208.20,256.37 L208.60,253.01 L209.00,250.41 L209.40,245.44 L209.80,252.35 L210.20,253.13 L210.60,254.26 L211.00,250.18 L211.40,250.18 L211.80,253.66 L212.20,256.04 L212.60,255.26 L213.00,251.17 L213.40,251.64 L213.80,251.64 L214.20,256.37 L214.60,250.88 L215.00,248.89 L215.40,252.24 L215.80,244.95 L216.20,244.95 L216.60,251.21 L217.00,244.69 L217.40,246.44 L217.80,251.92 L218.20,243.45 L218.60,250.75 L219.00,247.65 L219.40,249.60 L219.80,248.46 L220.20,245.25 L220.60,242.99 L221.00,244.30 L221.40,247.10 L221.80,249.78 L222.20,249.78 L222.60,245.15 L223.00,241.06 L223.40,246.54 L223.80,241.43 L224.20,243.63 L224.60,243.32 L225.00,245.98 L225.40,247.06 L225.80,243.93 L226.20,241.61 L226.60,244.14 L227.00,243.83 L227.40,243.87 L227.80,242.66 L228.20,245.57 L228.60,240.41 L229.00,245.99 L229.40,239.94 L229.80,242.28 L230.20,241.98 L230.60,241.76 L231.00,241.47 L231.40,243.64 L231.80,240.17 L232.20,240.79 L232.60,239.15 L233.00,239.46 L233.40,240.87 L233.80,239.81 L234.20,239.05 L234.60,241.27 L235.00,241.05 L235.40,237.09 L235.80,236.93 L236.20,239.28 L236.60,238.26 L237.00,240.13 L237.40,237.12 L237.80,237.17 L238.20,234.89 L238.60,236.25 L239.00,235.42 L239.40,233.91 L239.80,236.18 L240.20,234.86 L240.60,233.20 L241.00,234.00 L241.40,235.09 L241.80,232.09 L242.20,232.96 L242.60,232.96 L243.00,232.64 L243.40,235.72 L243.80,233.90 L244.20,233.26 L244.60,232.18 L245.00,232.03 L245.40,226.07 L245.80,233.34 L246.20,230.05 L246.60,229.57 L247.00,228.25 L247.40,228.25 L247.80,231.00 L248.20,229.24 L248.60,231.47 L249.00,229.46 L249.40,229.00 L249.80,227.20 L250.20,229.47 L250.60,230.21 L251.00,226.55 L251.40,226.59 L251.80,227.26 L252.20,229.68 L252.60,225.49 L253.00,226.92 L253.40,228.09 L253.80,225.04 L254.20,226.96 L254.60,226.64 L255.00,223.58 L255.40,225.96 L255.80,223.81 L256.20,223.01 L256.60,224.34 L257.00,222.61 L257.40,222.34 L257.80,222.30 L258.20,221.79 L258.60,221.72 L259.00,221.79 L259.40,219.45 L259.80,221.85 L260.20,220.41 L260.60,221.21 L261.00,222.08 L261.40,219.49 L261.80,219.49 L262.20,218.40 L262.60,218.71 L263.00,218.71 L263.40,216.69 L263.80,218.29 L264.20,218.29 L264.60,215.75 L265.00,215.63 L265.40,216.64 L265.80,216.49 L266.20,218.00 L266.60,216.48 L267.00,215.62 L267.40,214.89 L267.80,214.63 L268.20,214.19 L268.60,213.59 L269.00,213.73 L269.40,213.23 L269.80,213.00 L270.20,212.61 L270.60,214.26 L271.00,209.34 L271.40,211.00 L271.80,210.42 L272.20,209.79 L272.60,209.68 L273.00,209.09 L273.40,209.76 L273.80,207.81 L274.20,207.79 L274.60,207.56 L275.00,206.36 L275.40,206.64 L275.80,207.90 L276.20,206.87 L276.60,208.07 L277.00,205.32 L277.40,206.18 L277.80,205.30 L278.20,205.17 L278.60,206.01 L279.00,205.15 L279.40,204.50 L279.80,203.37 L280.20,203.84 L280.60,203.16 L281.00,203.16 L281.40,201.86 L281.80,202.06 L282.20,201.14 L282.60,200.75 L283.00,199.33 L283.40,200.16 L283.80,199.69 L284.20,200.44 L284.60,200.19 L285.00,198.60 L285.40,197.92 L285.80,197.91 L286.20,197.10 L286.60,197.83 L287.00,195.50 L287.40,194.72 L287.80,194.35 L288.20,193.39 L288.60,194.36 L289.00,194.97 L289.40,194.06 L289.80,192.24 L290.20,193.07 L290.60,191.21 L291.00,191.94 L291.40,191.73 L291.80,190.04 L292.20,191.08 L292.60,190.73 L293.00,190.25 L293.40,189.13 L293.80,187.88 L294.20,187.88 L294.60,187.53 L295.00,186.51 L295.40,186.51 L295.80,185.97 L296.20,186.86 L296.60,185.67 L297.00,185.57 L297.40,185.29 L297.80,184.96 L298.20,182.56 L298.60,182.37 L299.00,182.37 L299.40,182.42 L299.80,182.16 L300.20,182.11 L300.60,179.49 L301.00,180.45 L301.40,180.24 L301.80,180.33 L302.20,180.20 L302.60,177.73 L303.00,178.17 L303.40,178.35 L303.80,177.39 L304.20,176.51 L304.60,175.59 L305.00,176.17 L305.40,175.22 L305.80,174.47 L306.20,173.90 L306.60,174.14 L307.00,173.26 L307.40,172.90 L307.80,172.21 L308.20,171.29 L308.60,171.04 L309.00,170.74 L309.40,169.96 L309.80,169.94 L310.20,169.75 L310.60,168.57 L311.00,168.33 L311.40,166.96 L311.80,167.89 L312.20,167.43 L312.60,166.72 L313.00,166.39 L313.40,165.78 L313.80,165.52 L314.20,164.45 L314.60,164.27 L315.00,163.47 L315.40,163.61 L315.80,163.22 L316.20,162.11 L316.60,161.51 L317.00,160.42 L317.40,160.59 L317.80,159.69 L318.20,159.36 L318.60,159.00 L319.00,157.87 L319.40,157.77 L319.80,156.84 L320.20,156.33 L320.60,156.04 L321.00,155.68 L321.40,155.09 L321.80,154.93 L322.20,154.37 L322.60,153.18 L323.00,152.32 L323.40,152.53 L323.80,152.19 L324.20,151.35 L324.60,150.39 L325.00,149.73 L325.40,149.17 L325.80,148.81 L326.20,148.70 L326.60,147.76 L327.00,147.05 L327.40,146.48 L327.80,146.24 L328.20,145.12 L328.60,144.79 L329.00,144.79 L329.40,144.01 L329.80,143.29 L330.20,142.56 L330.60,142.19 L331.00,141.05 L331.40,141.03 L331.80,140.08 L332.20,139.42 L332.60,139.42 L333.00,139.05 L333.40,137.43 L333.80,137.08 L334.20,136.95 L334.60,136.10 L335.00,135.50 L335.40,134.50 L335.80,134.38 L336.20,133.80 L336.60,133.32 L337.00,132.61 L337.40,132.04 L337.80,131.87 L338.20,129.96 L338.60,129.96 L339.00,129.65 L339.40,128.56 L339.80,127.95 L340.20,127.42 L340.60,126.78 L341.00,126.48 L341.40,125.62 L341.80,125.17 L342.20,124.37 L342.60,123.74 L343.00,123.08 L343.40,122.37 L343.80,121.75 L344.20,121.12 L344.60,120.52 L345.00,119.60 L345.40,119.08 L345.80,118.95 L346.20,118.23 L346.60,117.34 L347.00,116.61 L347.40,116.19 L347.80,114.93 L348.20,114.72 L348.60,113.95 L349.00,112.80 L349.40,112.69 L349.80,111.92 L350.20,111.22 L350.60,110.84 L351.00,110.03 L351.40,109.42 L351.80,108.77 L352.20,108.54 L352.60,107.44 L353.00,106.63 L353.40,106.47 L353.80,105.35 L354.20,104.99 L354.60,104.12 L355.00,103.66 L355.40,102.85 L355.80,102.36 L356.20,101.95 L356.60,101.10 L357.00,100.15 L357.40,99.51 L357.80,99.12 L358.20,98.44 L358.60,97.99 L359.00,97.39 L359.40,96.68 L359.80,96.04 L360.20,95.43 L360.60,94.56 L361.00,93.95 L361.40,93.54 L361.80,93.07 L362.20,92.34 L362.60,91.72 L363.00,91.02 L363.40,90.54 L363.80,90.08 L364.20,89.39 L364.60,88.82 L365.00,88.03 L365.40,87.75 L365.80,86.92 L366.20,86.38 L366.60,85.77 L367.00,85.16 L367.40,84.35 L367.80,84.13 L368.20,83.31 L368.60,82.64 L369.00,81.91 L369.40,81.53 L369.80,80.76 L370.20,80.17 L370.60,79.41 L371.00,78.93 L371.40,78.46 L371.80,78.07 L372.20,77.34 L372.60,76.78 L373.00,76.61 L373.40,76.03 L373.80,75.47 L374.20,75.08 L374.60,74.49 L375.00,74.24 L375.40,73.70 L375.80,73.19 L376.20,72.79 L376.60,72.42 L377.00,72.02 L377.40,71.77 L377.80,71.46 L378.20,71.13 L378.60,70.81 L379.00,70.51 L379.40,70.36 L379.80,70.09 L380.20,69.86 L380.60,69.49 L381.00,69.46 L381.40,69.18 L381.80,68.87 L382.20,68.74 L382.60,68.60 L383.00,68.40 L383.40,68.23 L383.80,68.25 L384.20,68.25 L384.60,68.20 L385.00,68.06 L385.40,68.22 L385.80,68.29 L386.20,68.35 L386.60,68.61 L387.00,68.81 L387.40,69.06 L387.80,69.18 L388.20,69.44 L388.60,69.55 L389.00,69.89 L389.40,70.23 L389.80,70.55 L390.20,70.96 L390.60,71.31 L391.00,71.73 L391.40,72.09 L391.80,72.57 L392.20,73.13 L392.60,73.80 L393.00,74.76 L393.40,75.69 L393.80,76.91 L394.20,78.07 L394.60,79.43 L395.00,81.11 L395.40,83.20 L395.80,85.24 L396.20,87.31 L396.60,89.17 L397.00,91.38 L397.40,93.37 L397.40,96.39 L397.00,94.07 L396.60,92.08 L396.20,89.87 L395.80,88.01 L395.40,85.94 L395.00,83.90 L394.60,81.81 L394.20,80.13 L393.80,78.77 L393.40,77.61 L393.00,76.39 L392.60,75.46 L392.20,74.50 L391.80,73.83 L391.40,73.27 L391.00,72.84 L390.60,72.43 L390.20,72.01 L389.80,71.66 L389.40,71.25 L389.00,71.02 L388.60,70.59 L388.20,70.30 L387.80,70.14 L387.40,69.88 L387.00,69.78 L386.60,69.58 L386.20,69.34 L385.80,69.14 L385.40,69.14 L385.00,68.92 L384.60,69.01 L384.20,69.04 L383.80,69.10 L383.40,69.29 L383.00,69.30 L382.60,69.51 L382.20,69.70 L381.80,69.88 L381.40,70.16 L381.00,70.37 L380.60,70.57 L380.20,70.79 L379.80,71.06 L379.40,71.26 L379.00,71.51 L378.60,71.83 L378.20,72.18 L377.80,72.47 L377.40,72.72 L377.00,73.12 L376.60,73.49 L376.20,74.06 L375.80,74.40 L375.40,74.94 L375.00,75.19 L374.60,75.78 L374.20,76.17 L373.80,76.73 L373.40,77.31 L373.00,77.60 L372.60,78.04 L372.20,78.77 L371.80,79.16 L371.40,79.63 L371.00,80.11 L370.60,80.87 L370.20,81.46 L369.80,82.23 L369.40,82.61 L369.00,83.34 L368.60,84.01 L368.20,84.83 L367.80,85.05 L367.40,85.89 L367.00,86.51 L366.60,87.08 L366.20,87.72 L365.80,88.45 L365.40,88.73 L365.00,89.52 L364.60,90.13 L364.20,90.78 L363.80,91.24 L363.40,91.72 L363.00,92.42 L362.60,93.19 L362.20,93.77 L361.80,94.24 L361.40,94.65 L361.00,95.26 L360.60,96.22 L360.20,96.75 L359.80,97.38 L359.40,98.09 L359.00,98.69 L358.60,99.14 L358.20,99.82 L357.80,100.31 L357.40,100.85 L357.00,101.80 L356.60,102.65 L356.20,103.06 L355.80,103.55 L355.40,104.66 L355.00,104.82 L354.60,105.69 L354.20,106.23 L353.80,107.17 L353.40,107.41 L353.00,108.14 L352.60,109.24 L352.20,109.47 L351.80,110.12 L351.40,111.03 L351.00,111.54 L350.60,111.92 L350.20,112.67 L349.80,113.39 L349.40,113.68 L349.00,114.65 L348.60,115.56 L348.20,115.76 L347.80,116.89 L347.40,117.31 L347.00,118.09 L346.60,119.01 L346.20,119.65 L345.80,120.07 L345.40,120.65 L345.00,121.22 L344.60,121.82 L344.20,122.45 L343.80,123.32 L343.40,123.78 L343.00,124.44 L342.60,125.11 L342.20,125.87 L341.80,126.32 L341.40,127.18 L341.00,127.49 L340.60,128.27 L340.20,128.74 L339.80,129.79 L339.40,130.35 L339.00,131.32 L338.60,131.23 L338.20,132.58 L337.80,132.90 L337.40,133.31 L337.00,134.09 L336.60,134.50 L336.20,135.46 L335.80,136.38 L335.40,136.20 L335.00,136.80 L334.60,137.65 L334.20,138.41 L333.80,139.01 L333.40,139.75 L333.00,140.37 L332.60,140.70 L332.20,141.06 L331.80,141.78 L331.40,142.27 L331.00,142.90 L330.60,143.26 L330.20,144.43 L329.80,145.19 L329.40,145.80 L329.00,146.60 L328.60,146.29 L328.20,146.94 L327.80,147.93 L327.40,147.75 L327.00,149.42 L326.60,149.44 L326.20,149.86 L325.80,149.87 L325.40,151.14 L325.00,151.09 L324.60,152.33 L324.20,153.00 L323.80,153.45 L323.40,154.81 L323.00,154.86 L322.60,155.25 L322.20,155.63 L321.80,156.74 L321.40,156.93 L321.00,157.11 L320.60,157.40 L320.20,157.76 L319.80,158.47 L319.40,158.57 L319.00,160.11 L318.60,160.99 L318.20,160.68 L317.80,162.00 L317.40,162.38 L317.00,162.41 L316.60,163.21 L316.20,163.92 L315.80,165.28 L315.40,165.81 L315.00,165.56 L314.60,165.36 L314.20,166.67 L313.80,167.46 L313.40,167.10 L313.00,167.42 L312.60,169.18 L312.20,169.53 L311.80,170.46 L311.40,169.10 L311.00,170.19 L310.60,170.45 L310.20,172.08 L309.80,172.22 L309.40,172.72 L309.00,173.23 L308.60,173.63 L308.20,173.63 L307.80,174.18 L307.40,175.35 L307.00,175.55 L306.60,175.61 L306.20,175.18 L305.80,177.46 L305.40,177.91 L305.00,177.55 L304.60,178.71 L304.20,179.10 L303.80,180.06 L303.40,180.06 L303.00,180.21 L302.60,182.10 L302.20,182.10 L301.80,181.60 L301.40,182.70 L301.00,183.07 L300.60,182.81 L300.20,185.27 L299.80,184.10 L299.40,184.72 L299.00,184.70 L298.60,185.76 L298.20,186.48 L297.80,187.62 L297.40,187.62 L297.00,187.21 L296.60,188.21 L296.20,188.48 L295.80,188.83 L295.40,188.63 L295.00,189.33 L294.60,189.11 L294.20,190.86 L293.80,190.51 L293.40,191.01 L293.00,191.81 L292.60,192.05 L292.20,193.77 L291.80,193.37 L291.40,193.67 L291.00,193.97 L290.60,195.48 L290.20,196.86 L289.80,194.76 L289.40,197.49 L289.00,196.80 L288.60,197.25 L288.20,197.68 L287.80,197.68 L287.40,197.72 L287.00,198.53 L286.60,200.63 L286.20,199.02 L285.80,199.52 L285.40,200.64 L285.00,202.00 L284.60,202.07 L284.20,202.39 L283.80,201.63 L283.40,202.66 L283.00,201.80 L282.60,203.13 L282.20,204.07 L281.80,204.05 L281.40,205.30 L281.00,204.92 L280.60,205.77 L280.20,206.43 L279.80,208.80 L279.40,208.80 L279.00,206.81 L278.60,210.06 L278.20,210.63 L277.80,207.53 L277.40,210.73 L277.00,209.25 L276.60,210.18 L276.20,210.30 L275.80,211.13 L275.40,210.27 L275.00,209.91 L274.60,209.41 L274.20,210.35 L273.80,211.39 L273.40,213.24 L273.00,213.96 L272.60,212.76 L272.20,214.82 L271.80,216.88 L271.40,216.77 L271.00,216.77 L270.60,217.42 L270.20,215.71 L269.80,216.39 L269.40,217.32 L269.00,217.88 L268.60,217.88 L268.20,218.00 L267.80,217.11 L267.40,218.56 L267.00,220.30 L266.60,220.45 L266.20,221.73 L265.80,222.31 L265.40,217.85 L265.00,219.13 L264.60,221.92 L264.20,221.99 L263.80,222.92 L263.40,224.60 L263.00,223.72 L262.60,222.00 L262.20,224.48 L261.80,226.42 L261.40,223.11 L261.00,224.04 L260.60,223.72 L260.20,223.70 L259.80,227.65 L259.40,225.60 L259.00,225.18 L258.60,223.91 L258.20,224.82 L257.80,224.76 L257.40,224.36 L257.00,228.10 L256.60,227.53 L256.20,229.32 L255.80,229.75 L255.40,229.75 L255.00,228.33 L254.60,230.12 L254.20,231.50 L253.80,230.82 L253.40,232.74 L253.00,231.10 L252.60,232.84 L252.20,231.44 L251.80,231.51 L251.40,233.28 L251.00,233.79 L250.60,233.79 L250.20,233.05 L249.80,234.49 L249.40,233.45 L249.00,235.00 L248.60,234.51 L248.20,235.55 L247.80,234.16 L247.40,233.39 L247.00,235.85 L246.60,236.25 L246.20,234.05 L245.80,238.46 L245.40,235.45 L245.00,235.09 L244.60,236.04 L244.20,237.58 L243.80,238.97 L243.40,242.59 L243.00,237.27 L242.60,237.42 L242.20,241.44 L241.80,243.01 L241.40,240.47 L241.00,240.99 L240.60,242.57 L240.20,242.52 L239.80,243.21 L239.40,244.53 L239.00,242.98 L238.60,242.12 L238.20,241.21 L237.80,241.18 L237.40,241.00 L237.00,247.46 L236.60,244.89 L236.20,247.74 L235.80,244.15 L235.40,245.65 L235.00,245.39 L234.60,245.59 L234.20,245.84 L233.80,245.84 L233.40,245.15 L233.00,248.47 L232.60,248.43 L232.20,248.01 L231.80,247.29 L231.40,248.80 L231.00,249.75 L230.60,248.21 L230.20,248.21 L229.80,249.26 L229.40,249.57 L229.00,251.48 L228.60,248.27 L228.20,251.02 L227.80,249.08 L227.40,246.87 L227.00,246.53 L226.60,249.71 L226.20,248.92 L225.80,250.78 L225.40,251.56 L225.00,251.11 L224.60,248.75 L224.20,251.47 L223.80,251.84 L223.40,248.71 L223.00,247.93 L222.60,251.73 L222.20,255.71 L221.80,256.63 L221.40,250.75 L221.00,248.69 L220.60,253.26 L220.20,258.05 L219.80,256.97 L219.40,256.97 L219.00,255.96 L218.60,256.89 L218.20,256.89 L217.80,261.15 L217.40,257.89 L217.00,251.91 L216.60,255.18 L216.20,257.75 L215.80,259.88 L215.40,255.67 L215.00,253.64 L214.60,258.34 L214.20,262.70 L213.80,257.57 L213.40,256.50 L213.00,259.64 L212.60,259.06 L212.20,257.97 L211.80,256.74 L211.40,254.36 L211.00,254.96 L210.60,258.34 L210.20,258.86 L209.80,257.24 L209.40,257.72 L209.00,264.18 L208.60,263.51 L208.20,264.12 L207.80,262.14 L207.40,262.14 L207.00,262.07 L206.60,261.47 L206.20,263.95 L205.80,260.77 L205.40,259.57 L205.00,260.69 L204.60,263.14 L204.20,265.12 L203.80,265.08 L203.40,260.91 L203.00,263.64 L202.60,263.64 L202.20,269.44 L201.80,266.43 L201.40,261.15 L201.00,263.49 L200.60,265.48 L200.20,265.48 L199.80,263.80 L199.40,266.84 L199.00,266.84 L198.60,270.81 L198.20,265.27 L197.80,265.27 L197.40,267.43 L197.00,273.38 L196.60,273.38 L196.20,272.39 L195.80,266.54 L195.40,270.54 L195.00,269.65 L194.60,271.36 L194.20,270.43 L193.80,268.71 L193.40,273.07 L193.00,273.07 L192.60,270.29 L192.20,268.70 L191.80,270.25 L191.40,266.96 L191.00,270.18 L190.60,275.65 L190.20,275.65 L189.80,267.59 L189.40,273.78 L189.00,275.65 L188.60,272.71 L188.20,274.66 L187.80,275.65 L187.40,274.60 L187.00,274.32 L186.60,275.65 L186.20,274.25 L185.80,271.59 L185.40,275.65 L185.00,275.65 L184.60,275.65 L184.20,275.65 L183.80,271.49 L183.40,274.33 L183.00,274.31 L182.60,275.65 L182.20,275.65 L181.80,275.65 L181.40,274.19 L181.00,275.65 L180.60,275.65 L180.20,275.16 L179.80,275.65 L179.40,273.07 L179.00,275.65 L178.60,273.25 L178.20,275.65 L177.80,275.65 L177.40,270.77 L177.00,273.91 L176.60,272.26 L176.20,272.86 L175.80,269.14 L175.40,275.65 L175.00,275.65 L174.60,275.65 L174.20,275.65 L173.80,275.65 L173.40,275.65 L173.00,275.65 L172.60,275.65 L172.20,275.65 L171.80,275.65 L171.40,275.65 L171.00,275.65 L170.60,275.65 L170.20,275.65 L169.80,275.65 L169.40,275.65 L169.00,275.65 L168.60,275.65 L168.20,275.65 L167.80,275.65 L167.40,275.65 L167.00,275.65 L166.60,275.65 L166.20,275.65 L165.80,275.65 L165.40,275.65 L165.00,275.65 L164.60,275.65 L164.20,275.65 L163.80,275.65 L163.40,275.65 L163.00,275.65 L162.60,275.65 L162.20,275.65 L161.80,275.65 L161.40,275.65 L161.00,275.65 L160.60,275.65 L160.20,275.65 L159.80,275.65 L159.40,275.65 L159.00,275.65 L158.60,275.65 L158.20,275.65 L157.80,275.65 L157.40,275.65 L157.00,275.65 L156.60,275.65 L156.20,275.65 L155.80,275.65 L155.40,275.65 L155.00,275.65 L154.60,275.65 L154.20,275.65 L153.80,275.65 L153.40,275.65 L153.00,275.65 L152.60,275.65 L152.20,275.65 L151.80,275.65 L151.40,275.65 L151.00,275.65 L150.60,275.65 L150.20,275.65 L149.80,275.65 L149.40,275.65 L149.00,275.65 L148.60,275.65 L148.20,275.65 L147.80,275.65 L147.40,275.65 L147.00,275.65 L146.60,275.65 L146.20,275.65 L145.80,275.65 L145.40,275.65 L145.00,275.65 L144.60,275.65 L144.20,275.65 L143.80,275.65 L143.40,275.65 L143.00,275.65 L142.60,275.65 L142.20,275.65 L141.80,275.65 L141.40,275.65 L141.00,275.65 L140.60,275.65 L140.20,275.65 L139.80,275.65 L139.40,275.65 L139.00,275.65 L138.60,275.65 L138.20,275.65 L137.80,275.65 L137.40,275.65 L137.00,275.65 L136.60,275.65 L136.20,275.65 L135.80,275.65 L135.40,275.65 L135.00,275.65 L134.60,275.65 L134.20,275.65 L133.80,275.65 L133.40,275.65 L133.00,275.65 L132.60,275.65 L132.20,275.65 L131.80,275.65 L131.40,275.65 L131.00,275.65 L130.60,275.65 L130.20,275.65 L129.80,275.65 L129.40,275.65 L129.00,275.65 L128.60,275.65 L128.20,275.65 L127.80,275.65 L127.40,275.65 L127.00,275.65 L126.60,275.65 L126.20,275.65 L125.80,275.65 L125.40,275.65 L125.00,275.65 L124.60,275.65 L124.20,275.65 L123.80,275.65 L123.40,275.65 L123.00,275.65 L122.60,275.65 L122.20,275.65 L121.80,275.65 L121.40,275.65 L121.00,275.65 L120.60,275.65 L120.20,275.65Z" fill="#0000ff" stroke="#0000ff" stroke-width="0.6" stroke-linejoin="round"/>
<path d="M293.20,275.10 L293.60,275.10 L294.00,275.10 L294.40,275.10 L294.80,275.10 L295.20,275.10 L295.60,275.10 L296.00,275.10 L296.40,275.10 L296.80,275.10 L297.20,275.10 L297.60,275.10 L298.00,275.10 L298.40,275.10 L298.80,275.10 L299.20,275.10 L299.60,275.10 L300.00,275.10 L300.40,275.10 L300.80,275.10 L301.20,275.10 L301.60,275.10 L302.00,275.10 L302.40,275.10 L302.80,275.10 L303.20,275.10 L303.60,275.10 L304.00,275.10 L304.40,275.10 L304.80,275.10 L305.20,275.10 L305.60,275.10 L306.00,275.10 L306.40,275.10 L306.80,275.10 L307.20,275.10 L307.60,275.10 L308.00,275.10 L308.40,275.10 L308.80,275.10 L309.20,275.10 L309.60,275.10 L310.00,273.47 L310.40,275.10 L310.80,275.10 L311.20,274.12 L311.60,275.10 L312.00,275.10 L312.40,275.10 L312.80,272.83 L313.20,272.83 L313.60,274.12 L314.00,272.20 L314.40,272.83 L314.80,270.99 L315.20,270.99 L315.60,271.59 L316.00,275.10 L316.40,270.40 L316.80,273.47 L317.20,266.08 L317.60,266.08 L318.00,269.25 L318.40,265.10 L318.80,265.10 L319.20,267.10 L319.60,270.99 L320.00,265.10 L320.40,267.10 L320.80,265.58 L321.20,264.15 L321.60,264.15 L322.00,260.63 L322.40,260.22 L322.80,260.22 L323.20,260.63 L323.60,254.01 L324.00,254.01 L324.40,259.41 L324.80,259.02 L325.20,261.90 L325.60,257.87 L326.00,258.63 L326.40,252.42 L326.80,255.36 L327.20,251.80 L327.60,254.01 L328.00,255.70 L328.40,252.42 L328.80,252.42 L329.20,252.11 L329.60,247.32 L330.00,248.92 L330.40,248.65 L330.80,248.65 L331.20,248.92 L331.60,247.58 L332.00,244.36 L332.40,244.36 L332.80,244.60 L333.20,245.56 L333.60,243.67 L334.00,242.99 L334.40,243.90 L334.80,241.90 L335.20,241.90 L335.60,236.63 L336.00,236.63 L336.40,241.26 L336.80,241.47 L337.20,241.05 L337.60,236.45 L338.00,236.45 L338.40,238.85 L338.80,235.40 L339.20,237.17 L339.60,237.17 L340.00,234.07 L340.40,235.40 L340.80,234.40 L341.20,234.07 L341.60,233.42 L342.00,231.42 L342.40,230.98 L342.80,230.98 L343.20,228.86 L343.60,230.69 L344.00,229.00 L344.40,229.00 L344.80,227.41 L345.20,227.41 L345.60,224.82 L346.00,227.93 L346.40,226.64 L346.80,225.17 L347.20,225.17 L347.60,225.90 L348.00,221.07 L348.40,221.07 L348.80,223.44 L349.20,220.65 L349.60,221.38 L350.00,220.35 L350.40,219.26 L350.80,219.36 L351.20,218.31 L351.60,218.50 L352.00,217.84 L352.40,216.23 L352.80,214.21 L353.20,214.12 L353.60,212.32 L354.00,212.86 L354.40,210.98 L354.80,210.48 L355.20,210.40 L355.60,209.91 L356.00,207.82 L356.40,205.75 L356.80,206.36 L357.20,204.68 L357.60,205.09 L358.00,203.10 L358.40,202.07 L358.80,200.87 L359.20,198.95 L359.60,199.48 L360.00,197.65 L360.40,197.65 L360.80,196.66 L361.20,195.16 L361.60,192.77 L362.00,192.77 L362.40,189.47 L362.80,189.78 L363.20,188.10 L363.60,186.21 L364.00,185.46 L364.40,183.73 L364.80,182.13 L365.20,181.22 L365.60,180.29 L366.00,178.46 L366.40,177.64 L366.80,176.14 L367.20,174.14 L367.60,172.98 L368.00,171.62 L368.40,170.61 L368.80,169.23 L369.20,168.02 L369.60,166.82 L370.00,165.12 L370.40,164.52 L370.80,162.49 L371.20,160.97 L371.60,159.92 L372.00,157.95 L372.40,156.60 L372.80,155.45 L373.20,153.46 L373.60,152.81 L374.00,151.36 L374.40,149.27 L374.80,148.83 L375.20,146.86 L375.60,145.77 L376.00,144.09 L376.40,141.41 L376.80,140.14 L377.20,138.98 L377.60,137.38 L378.00,135.60 L378.40,133.64 L378.80,131.65 L379.20,129.54 L379.60,127.53 L380.00,125.52 L380.40,123.42 L380.80,121.48 L381.20,119.32 L381.60,116.72 L382.00,114.68 L382.40,112.56 L382.80,110.13 L383.20,108.65 L383.60,105.98 L384.00,103.76 L384.40,101.41 L384.80,99.15 L385.20,97.00 L385.60,94.45 L386.00,92.44 L386.40,89.95 L386.80,87.86 L387.20,85.71 L387.60,83.07 L388.00,80.58 L388.40,78.17 L388.80,76.16 L389.20,73.64 L389.60,71.22 L390.00,68.78 L390.40,66.34 L390.80,64.25 L391.20,61.83 L391.60,59.76 L392.00,57.37 L392.40,55.38 L392.80,53.12 L393.20,51.03 L393.60,49.15 L394.00,47.00 L394.40,44.61 L394.80,42.17 L395.20,39.80 L395.60,37.71 L396.00,36.16 L396.40,34.79 L396.80,33.53 L397.20,32.38 L397.60,31.40 L398.00,30.48 L398.40,30.15 L398.80,29.97 L399.20,30.08 L399.60,30.45 L400.00,31.63 L400.40,33.15 L400.80,35.20 L400.80,37.88 L400.40,35.60 L400.00,33.55 L399.60,32.03 L399.20,30.86 L398.80,30.55 L398.40,30.92 L398.00,31.80 L397.60,32.78 L397.20,33.93 L396.80,35.19 L396.40,36.56 L396.00,38.11 L395.60,40.20 L395.20,42.57 L394.80,45.01 L394.40,47.40 L394.00,49.55 L393.60,51.43 L393.20,53.52 L392.80,55.78 L392.40,57.77 L392.00,60.16 L391.60,62.23 L391.20,64.65 L390.80,66.74 L390.40,69.18 L390.00,71.62 L389.60,74.04 L389.20,76.56 L388.80,78.57 L388.40,80.98 L388.00,83.47 L387.60,86.16 L387.20,88.26 L386.80,90.35 L386.40,92.84 L386.00,94.85 L385.60,97.40 L385.20,99.55 L384.80,101.81 L384.40,104.16 L384.00,106.38 L383.60,109.05 L383.20,110.53 L382.80,112.96 L382.40,115.26 L382.00,117.12 L381.60,119.72 L381.20,121.88 L380.80,123.82 L380.40,125.92 L380.00,128.63 L379.60,129.94 L379.20,132.05 L378.80,134.04 L378.40,136.00 L378.00,137.78 L377.60,139.48 L377.20,141.17 L376.80,142.82 L376.40,144.49 L376.00,146.54 L375.60,147.85 L375.20,149.47 L374.80,150.27 L374.40,152.17 L374.00,153.21 L373.60,154.89 L373.20,157.03 L372.80,157.45 L372.40,158.78 L372.00,160.56 L371.60,161.97 L371.20,163.24 L370.80,165.06 L370.40,166.11 L370.00,167.22 L369.60,168.79 L369.20,169.97 L368.80,171.44 L368.40,172.26 L368.00,173.38 L367.60,175.64 L367.20,176.54 L366.80,178.38 L366.40,180.05 L366.00,181.67 L365.60,182.66 L365.20,183.88 L364.80,184.61 L364.40,186.86 L364.00,188.18 L363.60,189.47 L363.20,190.18 L362.80,192.75 L362.40,194.50 L362.00,195.03 L361.60,195.56 L361.20,197.24 L360.80,199.07 L360.40,199.35 L360.00,201.94 L359.60,203.61 L359.20,204.17 L358.80,204.62 L358.40,204.62 L358.00,205.49 L357.60,207.20 L357.20,207.45 L356.80,208.48 L356.40,209.42 L356.00,211.67 L355.60,213.18 L355.20,213.65 L354.80,213.96 L354.40,214.52 L354.00,215.18 L353.60,216.11 L353.20,218.52 L352.80,218.52 L352.40,218.71 L352.00,219.96 L351.60,221.67 L351.20,221.88 L350.80,223.28 L350.40,222.41 L350.00,224.98 L349.60,224.98 L349.20,225.22 L348.80,226.30 L348.40,228.20 L348.00,231.09 L347.60,231.09 L347.20,226.79 L346.80,230.66 L346.40,233.51 L346.00,232.58 L345.60,230.23 L345.20,232.58 L344.80,233.35 L344.40,232.88 L344.00,233.04 L343.60,233.35 L343.20,235.97 L342.80,235.13 L342.40,235.13 L342.00,236.67 L341.60,238.49 L341.20,238.30 L340.80,238.30 L340.40,238.87 L340.00,240.03 L339.60,240.23 L339.20,243.84 L338.80,243.84 L338.40,241.87 L338.00,244.30 L337.60,241.45 L337.20,253.45 L336.80,253.45 L336.40,245.24 L336.00,248.78 L335.60,249.60 L335.20,248.24 L334.80,248.78 L334.40,249.87 L334.00,250.15 L333.60,250.15 L333.20,254.74 L332.80,254.74 L332.40,255.41 L332.00,255.08 L331.60,255.08 L331.20,252.82 L330.80,250.15 L330.40,253.45 L330.00,256.81 L329.60,256.81 L329.20,259.03 L328.80,255.41 L328.40,262.73 L328.00,261.44 L327.60,261.44 L327.20,263.17 L326.80,264.55 L326.40,264.55 L326.00,269.10 L325.60,263.17 L325.20,264.08 L324.80,273.87 L324.40,273.87 L324.00,264.08 L323.60,264.08 L323.20,268.02 L322.80,268.02 L322.40,269.10 L322.00,271.99 L321.60,270.80 L321.20,270.22 L320.80,270.80 L320.40,272.60 L320.00,275.50 L319.60,275.50 L319.20,275.50 L318.80,275.50 L318.40,275.50 L318.00,275.50 L317.60,275.50 L317.20,275.20 L316.80,275.50 L316.40,275.50 L316.00,275.50 L315.60,275.50 L315.20,275.50 L314.80,275.50 L314.40,275.50 L314.00,275.50 L313.60,275.50 L313.20,275.50 L312.80,275.50 L312.40,275.50 L312.00,275.50 L311.60,275.50 L311.20,275.50 L310.80,275.50 L310.40,275.50 L310.00,275.50 L309.60,275.50 L309.20,275.50 L308.80,275.50 L308.40,275.50 L308.00,275.50 L307.60,275.50 L307.20,275.50 L306.80,275.50 L306.40,275.50 L306.00,275.50 L305.60,275.50 L305.20,275.50 L304.80,275.50 L304.40,275.50 L304.00,275.50 L303.60,275.50 L303.20,275.50 L302.80,275.50 L302.40,275.50 L302.00,275.50 L301.60,275.50 L301.20,275.50 L300.80,275.50 L300.40,275.50 L300.00,275.50 L299.60,275.50 L299.20,275.50 L298.80,275.50 L298.40,275.50 L298.00,275.50 L297.60,275.50 L297.20,275.50 L296.80,275.50 L296.40,275.50 L296.00,275.50 L295.60,275.50 L295.20,275.50 L294.80,275.50 L294.40,275.50 L294.00,275.50 L293.60,275.50 L293.20,275.50Z" fill="#ffa500" stroke="#ffa500" stroke-width="0.5" stroke-linejoin="round"/>
<path d="M401.00,37.70 L401.19,39.20 L401.38,40.70 L401.55,42.20 L401.72,43.70 L401.87,45.20 L402.02,46.70 L402.16,48.20 L402.28,49.70 L402.39,51.20 L402.50,52.70 L402.61,54.20 L402.71,55.70 L402.81,57.20 L402.89,58.70 L402.95,60.20 L402.99,61.70 L403.02,63.20 L403.05,64.70 L403.08,66.20 L403.10,67.70 L403.12,69.20 L403.15,70.70 L403.17,72.20 L403.18,73.70 L403.20,75.20 L403.22,76.70 L403.23,78.20 L403.24,79.70 L403.26,81.20 L403.27,82.70 L403.28,84.20 L403.28,85.70 L403.29,87.20 L403.30,88.70 L403.30,90.20 L403.30,91.70 L403.31,93.20 L403.31,94.70 L403.32,96.20 L403.32,97.70 L403.32,99.20 L403.33,100.70 L403.33,102.20 L403.34,103.70 L403.34,105.20 L403.34,106.70 L403.34,108.20 L403.35,109.70 L403.35,111.20 L403.35,112.70 L403.36,114.20 L403.36,115.70 L403.36,117.20 L403.36,118.70 L403.37,120.20 L403.37,121.70 L403.37,123.20 L403.37,124.70 L403.38,126.20 L403.38,127.70 L403.38,129.20 L403.38,130.70 L403.39,132.20 L403.39,133.70 L403.39,135.20 L403.39,136.70 L403.39,138.20 L403.40,139.70 L403.40,141.20 L403.40,142.70 L403.40,144.20 L403.40,145.70 L403.40,147.20 L403.41,148.70 L403.41,150.20 L403.41,151.70 L403.41,153.20 L403.41,154.70 L403.41,156.20 L403.41,157.70 L403.42,159.20 L403.42,160.70 L403.42,162.20 L403.42,163.70 L403.42,165.20 L403.42,166.70 L403.42,168.20 L403.42,169.70 L403.43,171.20 L403.43,172.70 L403.43,174.20 L403.43,175.70 L403.43,177.20 L403.43,178.70 L403.43,180.20 L403.43,181.70 L403.44,183.20 L403.44,184.70 L403.44,186.20 L403.44,187.70 L403.44,189.20 L403.44,190.70 L403.44,192.20 L403.44,193.70 L403.45,195.20 L403.45,196.70 L403.45,198.20 L403.45,199.70 L403.45,201.20 L403.45,202.70 L403.45,204.20 L403.45,205.70 L403.46,207.20 L403.46,208.70 L403.46,210.20 L403.46,211.70 L403.46,213.20 L403.46,214.70 L403.46,216.20 L403.46,217.70 L403.46,219.20 L403.46,220.70 L403.47,222.20 L403.47,223.70 L403.47,225.20 L403.47,226.70 L403.47,228.20 L403.47,229.70 L403.47,231.20 L403.47,232.70 L403.47,234.20 L403.47,235.70 L403.47,237.20 L403.47,238.70 L403.48,240.20 L403.48,241.70 L403.48,243.20 L403.48,244.70 L403.48,246.20 L403.48,247.70 L403.48,249.20 L403.48,250.70 L403.48,252.20 L403.49,253.70 L403.49,255.20 L403.49,256.70 L403.49,258.20 L403.49,259.70 L403.49,261.20 L403.49,262.70 L403.50,264.20 L403.50,265.70 L403.50,267.20 L403.50,268.70 L403.51,270.20 L403.51,271.70 L403.51,273.20 L403.52,274.70 L403.52,276.20 L403.53,277.70 L403.53,279.20 L403.54,280.70 L403.54,282.20 L403.55,283.70" fill="none" stroke="#ffa500" stroke-width="0.95" stroke-linejoin="round" stroke-linecap="round"/>
<path d="M391.90,202.00 L392.16,203.50 L392.41,205.00 L392.66,206.50 L392.91,208.00 L393.15,209.50 L393.39,211.00 L393.62,212.50 L393.85,214.00 L394.07,215.50 L394.29,217.00 L394.50,218.50 L394.71,220.00 L394.91,221.50 L395.11,223.00 L395.30,224.50 L395.48,226.00 L395.65,227.50 L395.82,229.00 L395.98,230.50 L396.13,232.00 L396.28,233.50 L396.41,235.00 L396.55,236.50 L396.68,238.00 L396.80,239.50 L396.92,241.00 L397.03,242.50 L397.15,244.00 L397.26,245.50 L397.36,247.00 L397.47,248.50 L397.57,250.00 L397.67,251.50 L397.77,253.00 L397.86,254.50 L397.96,256.00 L398.06,257.50 L398.15,259.00 L398.25,260.50 L398.35,262.00 L398.45,263.50 L398.54,265.00 L398.65,266.50 L398.75,268.00 L398.85,269.50 L398.95,271.00 L399.05,272.50 L399.15,274.00 L399.25,275.50 L399.35,277.00 L399.45,278.50 L399.54,280.00 L399.64,281.50 L399.74,283.00" fill="none" stroke="#ff0000" stroke-width="0.9" stroke-linejoin="round" stroke-linecap="round"/>
<path d="M393.50,132.00 L393.71,133.50 L393.92,135.00 L394.13,136.50 L394.34,138.00 L394.54,139.50 L394.74,141.00 L394.94,142.50 L395.14,144.00 L395.33,145.50 L395.52,147.00 L395.70,148.50 L395.89,150.00 L396.06,151.50 L396.24,153.00 L396.40,154.50 L396.57,156.00 L396.73,157.50 L396.88,159.00 L397.03,160.50 L397.18,162.00 L397.32,163.50 L397.47,165.00 L397.62,166.50 L397.76,168.00 L397.90,169.50 L398.05,171.00 L398.19,172.50 L398.32,174.00 L398.46,175.50 L398.59,177.00 L398.73,178.50 L398.85,180.00 L398.98,181.50 L399.10,183.00 L399.22,184.50 L399.33,186.00 L399.44,187.50 L399.55,189.00 L399.65,190.50 L399.75,192.00 L399.84,193.50 L399.93,195.00 L400.01,196.50 L400.09,198.00 L400.16,199.50 L400.22,201.00 L400.28,202.50 L400.34,204.00 L400.40,205.50 L400.46,207.00 L400.51,208.50 L400.56,210.00 L400.61,211.50 L400.66,213.00 L400.71,214.50 L400.76,216.00 L400.81,217.50 L400.85,219.00 L400.89,220.50 L400.94,222.00 L400.98,223.50 L401.02,225.00 L401.06,226.50 L401.10,228.00 L401.13,229.50 L401.17,231.00 L401.21,232.50 L401.24,234.00 L401.28,235.50 L401.31,237.00 L401.35,238.50 L401.38,240.00 L401.41,241.50 L401.45,243.00 L401.48,244.50 L401.51,246.00 L401.55,247.50 L401.58,249.00 L401.61,250.50 L401.65,252.00 L401.68,253.50 L401.71,255.00 L401.75,256.50 L401.78,258.00 L401.81,259.50 L401.85,261.00 L401.88,262.50 L401.92,264.00 L401.96,265.50 L401.99,267.00 L402.03,268.50 L402.07,270.00 L402.10,271.50 L402.14,273.00 L402.18,274.50 L402.21,276.00 L402.25,277.50 L402.28,279.00 L402.32,280.50 L402.35,282.00 L402.39,283.50" fill="none" stroke="#00ff00" stroke-width="0.85" stroke-linejoin="round" stroke-linecap="round"/>
<path d="M397.60,96.00 L397.72,97.50 L397.84,99.00 L397.96,100.50 L398.08,102.00 L398.19,103.50 L398.31,105.00 L398.42,106.50 L398.53,108.00 L398.65,109.50 L398.76,111.00 L398.86,112.50 L398.97,114.00 L399.08,115.50 L399.18,117.00 L399.28,118.50 L399.38,120.00 L399.48,121.50 L399.58,123.00 L399.68,124.50 L399.78,126.00 L399.87,127.50 L399.96,129.00 L400.05,130.50 L400.14,132.00 L400.23,133.50 L400.32,135.00 L400.40,136.50 L400.49,138.00 L400.58,139.50 L400.66,141.00 L400.74,142.50 L400.83,144.00 L400.91,145.50 L400.99,147.00 L401.07,148.50 L401.15,150.00 L401.22,151.50 L401.30,153.00 L401.37,154.50 L401.44,156.00 L401.51,157.50 L401.57,159.00 L401.63,160.50 L401.69,162.00 L401.75,163.50 L401.80,165.00 L401.85,166.50 L401.90,168.00 L401.95,169.50 L402.00,171.00 L402.05,172.50 L402.09,174.00 L402.14,175.50 L402.18,177.00 L402.23,178.50 L402.27,180.00 L402.31,181.50 L402.35,183.00 L402.39,184.50 L402.43,186.00 L402.46,187.50 L402.50,189.00 L402.53,190.50 L402.56,192.00 L402.59,193.50 L402.62,195.00 L402.65,196.50 L402.67,198.00 L402.69,199.50 L402.71,201.00 L402.73,202.50 L402.75,204.00 L402.77,205.50 L402.79,207.00 L402.81,208.50 L402.82,210.00 L402.84,211.50 L402.86,213.00 L402.87,214.50 L402.88,216.00 L402.90,217.50 L402.91,219.00 L402.93,220.50 L402.94,222.00 L402.95,223.50 L402.96,225.00 L402.98,226.50 L402.99,228.00 L403.00,229.50 L403.01,231.00 L403.02,232.50 L403.03,234.00 L403.04,235.50 L403.05,237.00 L403.06,238.50 L403.07,240.00 L403.08,241.50 L403.10,243.00 L403.11,244.50 L403.12,246.00 L403.13,247.50 L403.14,249.00 L403.15,250.50 L403.16,252.00 L403.17,253.50 L403.19,255.00 L403.20,256.50 L403.21,258.00 L403.22,259.50 L403.24,261.00 L403.25,262.50 L403.27,264.00 L403.28,265.50 L403.30,267.00 L403.31,268.50 L403.33,270.00 L403.35,271.50 L403.36,273.00 L403.38,274.50 L403.40,276.00 L403.42,277.50 L403.44,279.00 L403.46,280.50 L403.47,282.00 L403.49,283.50" fill="none" stroke="#0000ff" stroke-width="1.1" stroke-linejoin="round" stroke-linecap="round"/>
</g>
<path d="M28.70,267.3 v-7.3 M28.70,4.45 v7.3 M66.27,267.3 v-3.6 M66.27,4.45 v3.6 M103.84,267.3 v-7.3 M103.84,4.45 v7.3 M141.41,267.3 v-3.6 M141.41,4.45 v3.6 M178.98,267.3 v-7.3 M178.98,4.45 v7.3 M216.55,267.3 v-3.6 M216.55,4.45 v3.6 M254.12,267.3 v-7.3 M254.12,4.45 v7.3 M291.69,267.3 v-3.6 M291.69,4.45 v3.6 M329.26,267.3 v-7.3 M329.26,4.45 v7.3 M366.83,267.3 v-3.6 M366.83,4.45 v3.6 M404.40,267.3 v-7.3 M404.40,4.45 v7.3 M28.7,267.30 h7.3 M404.4,267.30 h-7.3 M28.7,247.52 h3.6 M404.4,247.52 h-3.6 M28.7,235.95 h3.6 M404.4,235.95 h-3.6 M28.7,227.74 h3.6 M404.4,227.74 h-3.6 M28.7,221.37 h3.6 M404.4,221.37 h-3.6 M28.7,216.17 h3.6 M404.4,216.17 h-3.6 M28.7,211.77 h3.6 M404.4,211.77 h-3.6 M28.7,207.96 h3.6 M404.4,207.96 h-3.6 M28.7,204.59 h3.6 M404.4,204.59 h-3.6 M28.7,201.59 h7.3 M404.4,201.59 h-7.3 M28.7,181.81 h3.6 M404.4,181.81 h-3.6 M28.7,170.23 h3.6 M404.4,170.23 h-3.6 M28.7,162.02 h3.6 M404.4,162.02 h-3.6 M28.7,155.66 h3.6 M404.4,155.66 h-3.6 M28.7,150.45 h3.6 M404.4,150.45 h-3.6 M28.7,146.05 h3.6 M404.4,146.05 h-3.6 M28.7,142.24 h3.6 M404.4,142.24 h-3.6 M28.7,138.88 h3.6 M404.4,138.88 h-3.6 M28.7,135.88 h7.3 M404.4,135.88 h-7.3 M28.7,116.09 h3.6 M404.4,116.09 h-3.6 M28.7,104.52 h3.6 M404.4,104.52 h-3.6 M28.7,96.31 h3.6 M404.4,96.31 h-3.6 M28.7,89.94 h3.6 M404.4,89.94 h-3.6 M28.7,84.74 h3.6 M404.4,84.74 h-3.6 M28.7,80.34 h3.6 M404.4,80.34 h-3.6 M28.7,76.53 h3.6 M404.4,76.53 h-3.6 M28.7,73.17 h3.6 M404.4,73.17 h-3.6 M28.7,70.16 h7.3 M404.4,70.16 h-7.3 M28.7,50.38 h3.6 M404.4,50.38 h-3.6 M28.7,38.81 h3.6 M404.4,38.81 h-3.6 M28.7,30.60 h3.6 M404.4,30.60 h-3.6 M28.7,24.23 h3.6 M404.4,24.23 h-3.6 M28.7,19.03 h3.6 M404.4,19.03 h-3.6 M28.7,14.63 h3.6 M404.4,14.63 h-3.6 M28.7,10.82 h3.6 M404.4,10.82 h-3.6 M28.7,7.46 h3.6 M404.4,7.46 h-3.6 M28.7,4.45 h7.3 M404.4,4.45 h-7.3" stroke="#222" stroke-width="0.85" fill="none"/>
<rect x="28.7" y="4.45" width="375.7" height="262.85" fill="none" stroke="#222" stroke-width="1.15"/>
<rect x="66.5" y="23" width="76.3" height="62.8" fill="#fff" stroke="#444" stroke-width="1.1"/>
<line x1="70.3" y1="30.5" x2="85.3" y2="30.5" stroke="#000000" stroke-width="1" stroke-opacity="0.75"/>
<text x="93.1" y="34.3" class="t" style="font-size:10.4px">5.70, L=12</text>
<line x1="70.3" y1="43.0" x2="85.3" y2="43.0" stroke="#ff0000" stroke-width="1" stroke-opacity="0.75"/>
<text x="93.1" y="46.7" class="t" style="font-size:10.4px">5.80, L=12</text>
<line x1="70.3" y1="55.5" x2="85.3" y2="55.5" stroke="#00ff00" stroke-width="1" stroke-opacity="0.75"/>
<text x="93.1" y="59.1" class="t" style="font-size:10.4px">5.90, L=14</text>
<line x1="70.3" y1="68.0" x2="85.3" y2="68.0" stroke="#0000ff" stroke-width="1" stroke-opacity="0.75"/>
<text x="93.1" y="71.5" class="t" style="font-size:10.4px">6.00, L=18</text>
<line x1="70.3" y1="80.5" x2="85.3" y2="80.5" stroke="#ffa500" stroke-width="1" stroke-opacity="0.75"/>
<text x="93.1" y="83.9" class="t" style="font-size:10.4px">6.20, L=24</text>
<text x="28.7" y="277.5" text-anchor="middle" class="t">0.99</text>
<text x="103.8" y="277.5" text-anchor="middle" class="t">0.992</text>
<text x="179.0" y="277.5" text-anchor="middle" class="t">0.994</text>
<text x="254.1" y="277.5" text-anchor="middle" class="t">0.996</text>
<text x="329.3" y="277.5" text-anchor="middle" class="t">0.998</text>
<text x="404.4" y="277.5" text-anchor="middle" class="t">1</text>
<text x="25.8" y="270.7" text-anchor="end" class="t">1</text>
<text x="25.8" y="205.0" text-anchor="end" class="t">10</text>
<text x="25.8" y="139.3" text-anchor="end" class="t">100</text>
<text x="25.8" y="73.6" text-anchor="end" class="t">1000</text>
<text x="25.8" y="7.8" text-anchor="end" class="t">10000</text>
<text x="187.8" y="290.8" class="t" style="font-size:10.45px">plaquette at t<tspan dy="2.7" font-size="7.3">0</tspan></text>
</svg>
</body></html>
